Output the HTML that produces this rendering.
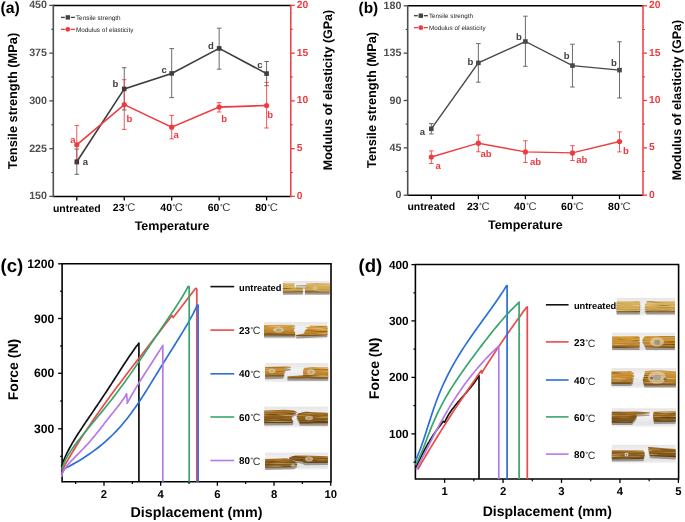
<!DOCTYPE html>
<html><head><meta charset="utf-8"><style>
html,body{margin:0;padding:0;background:#fff;}
svg{display:block;font-family:"Liberation Sans", sans-serif;will-change:transform;text-rendering:geometricPrecision;filter:blur(0.3px);}
</style></head><body>
<svg width="685" height="522" viewBox="0 0 685 522">
<defs>
<linearGradient id="pbg" x1="0" y1="0" x2="0" y2="1"><stop offset="0" stop-color="#e6e6e8"/><stop offset="0.35" stop-color="#f2f2f3"/><stop offset="0.85" stop-color="#e4e4e6"/><stop offset="1" stop-color="#f4f4f5"/></linearGradient>
<filter id="fib" x="-5%" y="-20%" width="110%" height="140%" color-interpolation-filters="sRGB">
<feTurbulence type="fractalNoise" baseFrequency="0.035 0.85" numOctaves="2" seed="7" result="n"/>
<feColorMatrix in="n" type="matrix" values="0 0 0 0 0.97  0 0 0 0 0.88  0 0 0 0 0.66  2.0 0 0 0 -1.05" result="lt"/>
<feComposite in="lt" in2="SourceGraphic" operator="in" result="ltc"/>
<feColorMatrix in="n" type="matrix" values="0 0 0 0 0.32  0 0 0 0 0.2  0 0 0 0 0.04  0 -2.4 0 0 1.1" result="dk"/>
<feComposite in="dk" in2="SourceGraphic" operator="in" result="dkc"/>
<feMerge><feMergeNode in="SourceGraphic"/><feMergeNode in="dkc"/><feMergeNode in="ltc"/></feMerge>
</filter>
<linearGradient id="gL" x1="0" y1="0" x2="0" y2="1"><stop offset="0" stop-color="#d9b666"/><stop offset="0.5" stop-color="#d4aa55"/><stop offset="0.85" stop-color="#c49a48"/><stop offset="1" stop-color="#94743e"/></linearGradient>
<linearGradient id="gM" x1="0" y1="0" x2="0" y2="1"><stop offset="0" stop-color="#d7a245"/><stop offset="0.5" stop-color="#c98d2c"/><stop offset="0.85" stop-color="#b07826"/><stop offset="1" stop-color="#7e5a26"/></linearGradient>
<linearGradient id="gO" x1="0" y1="0" x2="0" y2="1"><stop offset="0" stop-color="#d29a42"/><stop offset="0.5" stop-color="#c48a2e"/><stop offset="0.85" stop-color="#a87428"/><stop offset="1" stop-color="#7a5626"/></linearGradient>
<linearGradient id="gD" x1="0" y1="0" x2="0" y2="1"><stop offset="0" stop-color="#a87228"/><stop offset="0.5" stop-color="#8e601c"/><stop offset="0.85" stop-color="#7a5218"/><stop offset="1" stop-color="#5a3e16"/></linearGradient>
</defs>
<rect width="685" height="522" fill="#fff"/>
<line x1="53.30" y1="5.40" x2="290.80" y2="5.40" stroke="#000" stroke-width="1.5" />
<line x1="53.30" y1="196.40" x2="290.80" y2="196.40" stroke="#000" stroke-width="1.5" />
<line x1="53.30" y1="4.70" x2="53.30" y2="197.10" stroke="#4e4e4e" stroke-width="1.6" />
<line x1="290.80" y1="4.70" x2="290.80" y2="197.10" stroke="#ee3b3f" stroke-width="1.5" />
<line x1="49.30" y1="196.40" x2="53.30" y2="196.40" stroke="#4e4e4e" stroke-width="1.3" />
<line x1="290.80" y1="196.40" x2="294.80" y2="196.40" stroke="#ee3b3f" stroke-width="1.3" />
<text x="47.00" y="196.40" font-size="10.7" fill="#4e4e4e" text-anchor="end" font-weight="bold" dominant-baseline="central" >150</text>
<text x="296.80" y="196.40" font-size="10.3" fill="#ee3b3f" text-anchor="start" font-weight="bold" dominant-baseline="central" >0</text>
<line x1="51.30" y1="172.53" x2="53.30" y2="172.53" stroke="#4e4e4e" stroke-width="1.2" />
<line x1="290.80" y1="172.53" x2="292.80" y2="172.53" stroke="#ee3b3f" stroke-width="1.2" />
<line x1="49.30" y1="148.65" x2="53.30" y2="148.65" stroke="#4e4e4e" stroke-width="1.3" />
<line x1="290.80" y1="148.65" x2="294.80" y2="148.65" stroke="#ee3b3f" stroke-width="1.3" />
<text x="47.00" y="148.65" font-size="10.7" fill="#4e4e4e" text-anchor="end" font-weight="bold" dominant-baseline="central" >225</text>
<text x="296.80" y="148.65" font-size="10.3" fill="#ee3b3f" text-anchor="start" font-weight="bold" dominant-baseline="central" >5</text>
<line x1="51.30" y1="124.78" x2="53.30" y2="124.78" stroke="#4e4e4e" stroke-width="1.2" />
<line x1="290.80" y1="124.78" x2="292.80" y2="124.78" stroke="#ee3b3f" stroke-width="1.2" />
<line x1="49.30" y1="100.90" x2="53.30" y2="100.90" stroke="#4e4e4e" stroke-width="1.3" />
<line x1="290.80" y1="100.90" x2="294.80" y2="100.90" stroke="#ee3b3f" stroke-width="1.3" />
<text x="47.00" y="100.90" font-size="10.7" fill="#4e4e4e" text-anchor="end" font-weight="bold" dominant-baseline="central" >300</text>
<text x="296.80" y="100.90" font-size="10.3" fill="#ee3b3f" text-anchor="start" font-weight="bold" dominant-baseline="central" >10</text>
<line x1="51.30" y1="77.03" x2="53.30" y2="77.03" stroke="#4e4e4e" stroke-width="1.2" />
<line x1="290.80" y1="77.03" x2="292.80" y2="77.03" stroke="#ee3b3f" stroke-width="1.2" />
<line x1="49.30" y1="53.15" x2="53.30" y2="53.15" stroke="#4e4e4e" stroke-width="1.3" />
<line x1="290.80" y1="53.15" x2="294.80" y2="53.15" stroke="#ee3b3f" stroke-width="1.3" />
<text x="47.00" y="53.15" font-size="10.7" fill="#4e4e4e" text-anchor="end" font-weight="bold" dominant-baseline="central" >375</text>
<text x="296.80" y="53.15" font-size="10.3" fill="#ee3b3f" text-anchor="start" font-weight="bold" dominant-baseline="central" >15</text>
<line x1="51.30" y1="29.28" x2="53.30" y2="29.28" stroke="#4e4e4e" stroke-width="1.2" />
<line x1="290.80" y1="29.28" x2="292.80" y2="29.28" stroke="#ee3b3f" stroke-width="1.2" />
<line x1="49.30" y1="5.40" x2="53.30" y2="5.40" stroke="#4e4e4e" stroke-width="1.3" />
<line x1="290.80" y1="5.40" x2="294.80" y2="5.40" stroke="#ee3b3f" stroke-width="1.3" />
<text x="47.00" y="5.40" font-size="10.7" fill="#4e4e4e" text-anchor="end" font-weight="bold" dominant-baseline="central" >450</text>
<text x="296.80" y="5.40" font-size="10.3" fill="#ee3b3f" text-anchor="start" font-weight="bold" dominant-baseline="central" >20</text>
<line x1="76.80" y1="196.40" x2="76.80" y2="200.40" stroke="#000" stroke-width="1.3" />
<text x="76.80" y="208.60" font-size="10.5" fill="#000" text-anchor="middle" font-weight="bold" dominant-baseline="central" >untreated</text>
<line x1="124.25" y1="196.40" x2="124.25" y2="200.40" stroke="#000" stroke-width="1.3" />
<text x="112.85" y="208.40" font-size="10.5" fill="#000" font-weight="bold" dominant-baseline="central">23</text>
<circle cx="126.43" cy="205.15" r="0.75" fill="none" stroke="#000" stroke-width="0.6" opacity="0.8"/>
<text x="127.33" y="208.40" font-size="11.24" fill="#000" font-weight="normal" dominant-baseline="central" opacity="0.8">C</text>
<line x1="171.70" y1="196.40" x2="171.70" y2="200.40" stroke="#000" stroke-width="1.3" />
<text x="160.30" y="208.40" font-size="10.5" fill="#000" font-weight="bold" dominant-baseline="central">40</text>
<circle cx="173.88" cy="205.15" r="0.75" fill="none" stroke="#000" stroke-width="0.6" opacity="0.8"/>
<text x="174.78" y="208.40" font-size="11.24" fill="#000" font-weight="normal" dominant-baseline="central" opacity="0.8">C</text>
<line x1="219.15" y1="196.40" x2="219.15" y2="200.40" stroke="#000" stroke-width="1.3" />
<text x="207.75" y="208.40" font-size="10.5" fill="#000" font-weight="bold" dominant-baseline="central">60</text>
<circle cx="221.33" cy="205.15" r="0.75" fill="none" stroke="#000" stroke-width="0.6" opacity="0.8"/>
<text x="222.23" y="208.40" font-size="11.24" fill="#000" font-weight="normal" dominant-baseline="central" opacity="0.8">C</text>
<line x1="266.60" y1="196.40" x2="266.60" y2="200.40" stroke="#000" stroke-width="1.3" />
<text x="255.20" y="208.40" font-size="10.5" fill="#000" font-weight="bold" dominant-baseline="central">80</text>
<circle cx="268.78" cy="205.15" r="0.75" fill="none" stroke="#000" stroke-width="0.6" opacity="0.8"/>
<text x="269.68" y="208.40" font-size="11.24" fill="#000" font-weight="normal" dominant-baseline="central" opacity="0.8">C</text>
<text x="172.05" y="226.40" font-size="12.5" fill="#000" text-anchor="middle" font-weight="bold" dominant-baseline="central" >Temperature</text>
<text x="12.00" y="101.00" font-size="12.8" fill="#000" text-anchor="middle" font-weight="bold" dominant-baseline="central" transform="rotate(-90 12.00 101.00)" >Tensile strength (MPa)</text>
<text x="328.00" y="90.00" font-size="12.5" fill="#000" text-anchor="middle" font-weight="bold" dominant-baseline="central" transform="rotate(-90 328.00 90.00)" >Modulus of elasticity (GPa)</text>
<text x="0.50" y="8.90" font-size="15.8" fill="#000" text-anchor="start" font-weight="bold" dominant-baseline="central" >(a)</text>
<line x1="76.80" y1="149.00" x2="76.80" y2="174.30" stroke="#6b6b6b" stroke-width="1.0" />
<line x1="74.50" y1="149.00" x2="79.10" y2="149.00" stroke="#6b6b6b" stroke-width="1.0" />
<line x1="74.50" y1="174.30" x2="79.10" y2="174.30" stroke="#6b6b6b" stroke-width="1.0" />
<line x1="124.25" y1="67.70" x2="124.25" y2="110.00" stroke="#6b6b6b" stroke-width="1.0" />
<line x1="121.95" y1="67.70" x2="126.55" y2="67.70" stroke="#6b6b6b" stroke-width="1.0" />
<line x1="121.95" y1="110.00" x2="126.55" y2="110.00" stroke="#6b6b6b" stroke-width="1.0" />
<line x1="171.70" y1="48.60" x2="171.70" y2="97.60" stroke="#6b6b6b" stroke-width="1.0" />
<line x1="169.40" y1="48.60" x2="174.00" y2="48.60" stroke="#6b6b6b" stroke-width="1.0" />
<line x1="169.40" y1="97.60" x2="174.00" y2="97.60" stroke="#6b6b6b" stroke-width="1.0" />
<line x1="219.15" y1="28.20" x2="219.15" y2="69.20" stroke="#6b6b6b" stroke-width="1.0" />
<line x1="216.85" y1="28.20" x2="221.45" y2="28.20" stroke="#6b6b6b" stroke-width="1.0" />
<line x1="216.85" y1="69.20" x2="221.45" y2="69.20" stroke="#6b6b6b" stroke-width="1.0" />
<line x1="266.60" y1="61.50" x2="266.60" y2="85.70" stroke="#6b6b6b" stroke-width="1.0" />
<line x1="264.30" y1="61.50" x2="268.90" y2="61.50" stroke="#6b6b6b" stroke-width="1.0" />
<line x1="264.30" y1="85.70" x2="268.90" y2="85.70" stroke="#6b6b6b" stroke-width="1.0" />
<line x1="76.80" y1="125.40" x2="76.80" y2="164.20" stroke="#ee3b3f" stroke-width="1.0" opacity="0.85"/>
<line x1="74.50" y1="125.40" x2="79.10" y2="125.40" stroke="#ee3b3f" stroke-width="1.0" opacity="0.85"/>
<line x1="74.50" y1="164.20" x2="79.10" y2="164.20" stroke="#ee3b3f" stroke-width="1.0" opacity="0.85"/>
<line x1="124.25" y1="79.70" x2="124.25" y2="129.40" stroke="#ee3b3f" stroke-width="1.0" opacity="0.85"/>
<line x1="121.95" y1="79.70" x2="126.55" y2="79.70" stroke="#ee3b3f" stroke-width="1.0" opacity="0.85"/>
<line x1="121.95" y1="129.40" x2="126.55" y2="129.40" stroke="#ee3b3f" stroke-width="1.0" opacity="0.85"/>
<line x1="171.70" y1="115.40" x2="171.70" y2="138.80" stroke="#ee3b3f" stroke-width="1.0" opacity="0.85"/>
<line x1="169.40" y1="115.40" x2="174.00" y2="115.40" stroke="#ee3b3f" stroke-width="1.0" opacity="0.85"/>
<line x1="169.40" y1="138.80" x2="174.00" y2="138.80" stroke="#ee3b3f" stroke-width="1.0" opacity="0.85"/>
<line x1="219.15" y1="102.60" x2="219.15" y2="112.00" stroke="#ee3b3f" stroke-width="1.0" opacity="0.85"/>
<line x1="216.85" y1="102.60" x2="221.45" y2="102.60" stroke="#ee3b3f" stroke-width="1.0" opacity="0.85"/>
<line x1="216.85" y1="112.00" x2="221.45" y2="112.00" stroke="#ee3b3f" stroke-width="1.0" opacity="0.85"/>
<line x1="266.60" y1="82.40" x2="266.60" y2="128.00" stroke="#ee3b3f" stroke-width="1.0" opacity="0.85"/>
<line x1="264.30" y1="82.40" x2="268.90" y2="82.40" stroke="#ee3b3f" stroke-width="1.0" opacity="0.85"/>
<line x1="264.30" y1="128.00" x2="268.90" y2="128.00" stroke="#ee3b3f" stroke-width="1.0" opacity="0.85"/>
<polyline points="76.80,161.70 124.25,88.90 171.70,73.40 219.15,48.40 266.60,73.60" fill="none" stroke="#3d3d3d" stroke-width="1.6"/>
<polyline points="76.80,144.80 124.25,104.60 171.70,127.20 219.15,107.10 266.60,105.50" fill="none" stroke="#ee3b3f" stroke-width="1.6"/>
<rect x="74.50" y="159.40" width="4.6" height="4.6" fill="#3d3d3d"/>
<rect x="121.95" y="86.60" width="4.6" height="4.6" fill="#3d3d3d"/>
<rect x="169.40" y="71.10" width="4.6" height="4.6" fill="#3d3d3d"/>
<rect x="216.85" y="46.10" width="4.6" height="4.6" fill="#3d3d3d"/>
<rect x="264.30" y="71.30" width="4.6" height="4.6" fill="#3d3d3d"/>
<circle cx="76.80" cy="144.80" r="2.6" fill="#ee3b3f"/>
<circle cx="124.25" cy="104.60" r="2.6" fill="#ee3b3f"/>
<circle cx="171.70" cy="127.20" r="2.6" fill="#ee3b3f"/>
<circle cx="219.15" cy="107.10" r="2.6" fill="#ee3b3f"/>
<circle cx="266.60" cy="105.50" r="2.6" fill="#ee3b3f"/>
<text x="85.30" y="162.80" font-size="9.5" fill="#444" text-anchor="middle" font-weight="bold" dominant-baseline="central" >a</text>
<text x="115.40" y="84.60" font-size="9.5" fill="#444" text-anchor="middle" font-weight="bold" dominant-baseline="central" >b</text>
<text x="164.20" y="70.20" font-size="9.5" fill="#444" text-anchor="middle" font-weight="bold" dominant-baseline="central" >c</text>
<text x="210.90" y="46.80" font-size="9.5" fill="#444" text-anchor="middle" font-weight="bold" dominant-baseline="central" >d</text>
<text x="259.80" y="65.00" font-size="9.5" fill="#444" text-anchor="middle" font-weight="bold" dominant-baseline="central" >c</text>
<text x="72.90" y="140.20" font-size="9.5" fill="#ee3b3f" text-anchor="middle" font-weight="bold" dominant-baseline="central" >a</text>
<text x="129.40" y="119.80" font-size="9.5" fill="#ee3b3f" text-anchor="middle" font-weight="bold" dominant-baseline="central" >b</text>
<text x="176.20" y="135.80" font-size="9.5" fill="#ee3b3f" text-anchor="middle" font-weight="bold" dominant-baseline="central" >a</text>
<text x="224.10" y="119.20" font-size="9.5" fill="#ee3b3f" text-anchor="middle" font-weight="bold" dominant-baseline="central" >b</text>
<text x="270.20" y="115.40" font-size="9.5" fill="#ee3b3f" text-anchor="middle" font-weight="bold" dominant-baseline="central" >b</text>
<line x1="61.00" y1="17.40" x2="64.80" y2="17.40" stroke="#3d3d3d" stroke-width="1.3" />
<line x1="70.80" y1="17.40" x2="74.90" y2="17.40" stroke="#3d3d3d" stroke-width="1.3" />
<rect x="65.60" y="15.20" width="4.4" height="4.4" fill="#444"/>
<text x="75.90" y="18.30" font-size="6.4" fill="#222" text-anchor="start" font-weight="normal" dominant-baseline="central" >Tensile strength</text>
<line x1="61.00" y1="29.35" x2="64.80" y2="29.35" stroke="#ee3b3f" stroke-width="1.3" />
<line x1="70.80" y1="29.35" x2="74.90" y2="29.35" stroke="#ee3b3f" stroke-width="1.3" />
<circle cx="67.80" cy="29.35" r="2.45" fill="#ee3b3f"/>
<text x="75.90" y="30.25" font-size="6.4" fill="#222" text-anchor="start" font-weight="normal" dominant-baseline="central" >Modulus of elasticity</text>
<line x1="407.70" y1="5.80" x2="643.00" y2="5.80" stroke="#000" stroke-width="1.5" />
<line x1="407.70" y1="195.20" x2="643.00" y2="195.20" stroke="#000" stroke-width="1.5" />
<line x1="407.70" y1="5.10" x2="407.70" y2="195.90" stroke="#4e4e4e" stroke-width="1.6" />
<line x1="643.00" y1="5.10" x2="643.00" y2="195.90" stroke="#ee3b3f" stroke-width="1.5" />
<line x1="403.70" y1="195.20" x2="407.70" y2="195.20" stroke="#4e4e4e" stroke-width="1.3" />
<line x1="643.00" y1="195.20" x2="647.00" y2="195.20" stroke="#ee3b3f" stroke-width="1.3" />
<text x="401.40" y="195.20" font-size="10.7" fill="#4e4e4e" text-anchor="end" font-weight="bold" dominant-baseline="central" >0</text>
<text x="649.00" y="195.20" font-size="10.3" fill="#ee3b3f" text-anchor="start" font-weight="bold" dominant-baseline="central" >0</text>
<line x1="405.70" y1="171.52" x2="407.70" y2="171.52" stroke="#4e4e4e" stroke-width="1.2" />
<line x1="643.00" y1="171.52" x2="645.00" y2="171.52" stroke="#ee3b3f" stroke-width="1.2" />
<line x1="403.70" y1="147.85" x2="407.70" y2="147.85" stroke="#4e4e4e" stroke-width="1.3" />
<line x1="643.00" y1="147.85" x2="647.00" y2="147.85" stroke="#ee3b3f" stroke-width="1.3" />
<text x="401.40" y="147.85" font-size="10.7" fill="#4e4e4e" text-anchor="end" font-weight="bold" dominant-baseline="central" >45</text>
<text x="649.00" y="147.85" font-size="10.3" fill="#ee3b3f" text-anchor="start" font-weight="bold" dominant-baseline="central" >5</text>
<line x1="405.70" y1="124.17" x2="407.70" y2="124.17" stroke="#4e4e4e" stroke-width="1.2" />
<line x1="643.00" y1="124.17" x2="645.00" y2="124.17" stroke="#ee3b3f" stroke-width="1.2" />
<line x1="403.70" y1="100.50" x2="407.70" y2="100.50" stroke="#4e4e4e" stroke-width="1.3" />
<line x1="643.00" y1="100.50" x2="647.00" y2="100.50" stroke="#ee3b3f" stroke-width="1.3" />
<text x="401.40" y="100.50" font-size="10.7" fill="#4e4e4e" text-anchor="end" font-weight="bold" dominant-baseline="central" >90</text>
<text x="649.00" y="100.50" font-size="10.3" fill="#ee3b3f" text-anchor="start" font-weight="bold" dominant-baseline="central" >10</text>
<line x1="405.70" y1="76.83" x2="407.70" y2="76.83" stroke="#4e4e4e" stroke-width="1.2" />
<line x1="643.00" y1="76.83" x2="645.00" y2="76.83" stroke="#ee3b3f" stroke-width="1.2" />
<line x1="403.70" y1="53.15" x2="407.70" y2="53.15" stroke="#4e4e4e" stroke-width="1.3" />
<line x1="643.00" y1="53.15" x2="647.00" y2="53.15" stroke="#ee3b3f" stroke-width="1.3" />
<text x="401.40" y="53.15" font-size="10.7" fill="#4e4e4e" text-anchor="end" font-weight="bold" dominant-baseline="central" >135</text>
<text x="649.00" y="53.15" font-size="10.3" fill="#ee3b3f" text-anchor="start" font-weight="bold" dominant-baseline="central" >15</text>
<line x1="405.70" y1="29.48" x2="407.70" y2="29.48" stroke="#4e4e4e" stroke-width="1.2" />
<line x1="643.00" y1="29.48" x2="645.00" y2="29.48" stroke="#ee3b3f" stroke-width="1.2" />
<line x1="403.70" y1="5.80" x2="407.70" y2="5.80" stroke="#4e4e4e" stroke-width="1.3" />
<line x1="643.00" y1="5.80" x2="647.00" y2="5.80" stroke="#ee3b3f" stroke-width="1.3" />
<text x="401.40" y="5.80" font-size="10.7" fill="#4e4e4e" text-anchor="end" font-weight="bold" dominant-baseline="central" >180</text>
<text x="649.00" y="5.80" font-size="10.3" fill="#ee3b3f" text-anchor="start" font-weight="bold" dominant-baseline="central" >20</text>
<line x1="431.30" y1="195.20" x2="431.30" y2="199.20" stroke="#000" stroke-width="1.3" />
<text x="431.30" y="207.40" font-size="10.5" fill="#000" text-anchor="middle" font-weight="bold" dominant-baseline="central" >untreated</text>
<line x1="478.35" y1="195.20" x2="478.35" y2="199.20" stroke="#000" stroke-width="1.3" />
<text x="466.95" y="207.20" font-size="10.5" fill="#000" font-weight="bold" dominant-baseline="central">23</text>
<circle cx="480.53" cy="203.94" r="0.75" fill="none" stroke="#000" stroke-width="0.6" opacity="0.8"/>
<text x="481.43" y="207.20" font-size="11.24" fill="#000" font-weight="normal" dominant-baseline="central" opacity="0.8">C</text>
<line x1="525.40" y1="195.20" x2="525.40" y2="199.20" stroke="#000" stroke-width="1.3" />
<text x="514.00" y="207.20" font-size="10.5" fill="#000" font-weight="bold" dominant-baseline="central">40</text>
<circle cx="527.58" cy="203.94" r="0.75" fill="none" stroke="#000" stroke-width="0.6" opacity="0.8"/>
<text x="528.48" y="207.20" font-size="11.24" fill="#000" font-weight="normal" dominant-baseline="central" opacity="0.8">C</text>
<line x1="572.45" y1="195.20" x2="572.45" y2="199.20" stroke="#000" stroke-width="1.3" />
<text x="561.05" y="207.20" font-size="10.5" fill="#000" font-weight="bold" dominant-baseline="central">60</text>
<circle cx="574.63" cy="203.94" r="0.75" fill="none" stroke="#000" stroke-width="0.6" opacity="0.8"/>
<text x="575.53" y="207.20" font-size="11.24" fill="#000" font-weight="normal" dominant-baseline="central" opacity="0.8">C</text>
<line x1="619.50" y1="195.20" x2="619.50" y2="199.20" stroke="#000" stroke-width="1.3" />
<text x="608.10" y="207.20" font-size="10.5" fill="#000" font-weight="bold" dominant-baseline="central">80</text>
<circle cx="621.68" cy="203.94" r="0.75" fill="none" stroke="#000" stroke-width="0.6" opacity="0.8"/>
<text x="622.58" y="207.20" font-size="11.24" fill="#000" font-weight="normal" dominant-baseline="central" opacity="0.8">C</text>
<text x="525.35" y="225.20" font-size="12.5" fill="#000" text-anchor="middle" font-weight="bold" dominant-baseline="central" >Temperature</text>
<text x="371.70" y="100.00" font-size="12.8" fill="#000" text-anchor="middle" font-weight="bold" dominant-baseline="central" transform="rotate(-90 371.70 100.00)" >Tensile strength (MPa)</text>
<text x="677.40" y="100.00" font-size="12.5" fill="#000" text-anchor="middle" font-weight="bold" dominant-baseline="central" transform="rotate(-90 677.40 100.00)" >Modulus of elasticity (GPa)</text>
<text x="358.50" y="8.90" font-size="15.4" fill="#000" text-anchor="start" font-weight="bold" dominant-baseline="central" >(b)</text>
<line x1="431.30" y1="123.60" x2="431.30" y2="134.00" stroke="#6b6b6b" stroke-width="1.0" />
<line x1="429.00" y1="123.60" x2="433.60" y2="123.60" stroke="#6b6b6b" stroke-width="1.0" />
<line x1="429.00" y1="134.00" x2="433.60" y2="134.00" stroke="#6b6b6b" stroke-width="1.0" />
<line x1="478.35" y1="43.60" x2="478.35" y2="82.20" stroke="#6b6b6b" stroke-width="1.0" />
<line x1="476.05" y1="43.60" x2="480.65" y2="43.60" stroke="#6b6b6b" stroke-width="1.0" />
<line x1="476.05" y1="82.20" x2="480.65" y2="82.20" stroke="#6b6b6b" stroke-width="1.0" />
<line x1="525.40" y1="16.20" x2="525.40" y2="66.30" stroke="#6b6b6b" stroke-width="1.0" />
<line x1="523.10" y1="16.20" x2="527.70" y2="16.20" stroke="#6b6b6b" stroke-width="1.0" />
<line x1="523.10" y1="66.30" x2="527.70" y2="66.30" stroke="#6b6b6b" stroke-width="1.0" />
<line x1="572.45" y1="44.20" x2="572.45" y2="87.00" stroke="#6b6b6b" stroke-width="1.0" />
<line x1="570.15" y1="44.20" x2="574.75" y2="44.20" stroke="#6b6b6b" stroke-width="1.0" />
<line x1="570.15" y1="87.00" x2="574.75" y2="87.00" stroke="#6b6b6b" stroke-width="1.0" />
<line x1="619.50" y1="41.80" x2="619.50" y2="98.00" stroke="#6b6b6b" stroke-width="1.0" />
<line x1="617.20" y1="41.80" x2="621.80" y2="41.80" stroke="#6b6b6b" stroke-width="1.0" />
<line x1="617.20" y1="98.00" x2="621.80" y2="98.00" stroke="#6b6b6b" stroke-width="1.0" />
<line x1="431.30" y1="150.90" x2="431.30" y2="163.50" stroke="#ee3b3f" stroke-width="1.0" opacity="0.85"/>
<line x1="429.00" y1="150.90" x2="433.60" y2="150.90" stroke="#ee3b3f" stroke-width="1.0" opacity="0.85"/>
<line x1="429.00" y1="163.50" x2="433.60" y2="163.50" stroke="#ee3b3f" stroke-width="1.0" opacity="0.85"/>
<line x1="478.35" y1="135.00" x2="478.35" y2="151.80" stroke="#ee3b3f" stroke-width="1.0" opacity="0.85"/>
<line x1="476.05" y1="135.00" x2="480.65" y2="135.00" stroke="#ee3b3f" stroke-width="1.0" opacity="0.85"/>
<line x1="476.05" y1="151.80" x2="480.65" y2="151.80" stroke="#ee3b3f" stroke-width="1.0" opacity="0.85"/>
<line x1="525.40" y1="140.80" x2="525.40" y2="162.50" stroke="#ee3b3f" stroke-width="1.0" opacity="0.85"/>
<line x1="523.10" y1="140.80" x2="527.70" y2="140.80" stroke="#ee3b3f" stroke-width="1.0" opacity="0.85"/>
<line x1="523.10" y1="162.50" x2="527.70" y2="162.50" stroke="#ee3b3f" stroke-width="1.0" opacity="0.85"/>
<line x1="572.45" y1="145.70" x2="572.45" y2="160.50" stroke="#ee3b3f" stroke-width="1.0" opacity="0.85"/>
<line x1="570.15" y1="145.70" x2="574.75" y2="145.70" stroke="#ee3b3f" stroke-width="1.0" opacity="0.85"/>
<line x1="570.15" y1="160.50" x2="574.75" y2="160.50" stroke="#ee3b3f" stroke-width="1.0" opacity="0.85"/>
<line x1="619.50" y1="131.90" x2="619.50" y2="151.90" stroke="#ee3b3f" stroke-width="1.0" opacity="0.85"/>
<line x1="617.20" y1="131.90" x2="621.80" y2="131.90" stroke="#ee3b3f" stroke-width="1.0" opacity="0.85"/>
<line x1="617.20" y1="151.90" x2="621.80" y2="151.90" stroke="#ee3b3f" stroke-width="1.0" opacity="0.85"/>
<polyline points="431.30,128.80 478.35,62.90 525.40,41.50 572.45,65.60 619.50,70.10" fill="none" stroke="#484848" stroke-width="1.4"/>
<polyline points="431.30,157.00 478.35,143.20 525.40,151.90 572.45,152.90 619.50,141.50" fill="none" stroke="#ee3b3f" stroke-width="1.4"/>
<rect x="429.00" y="126.50" width="4.6" height="4.6" fill="#484848"/>
<rect x="476.05" y="60.60" width="4.6" height="4.6" fill="#484848"/>
<rect x="523.10" y="39.20" width="4.6" height="4.6" fill="#484848"/>
<rect x="570.15" y="63.30" width="4.6" height="4.6" fill="#484848"/>
<rect x="617.20" y="67.80" width="4.6" height="4.6" fill="#484848"/>
<circle cx="431.30" cy="157.00" r="2.6" fill="#ee3b3f"/>
<circle cx="478.35" cy="143.20" r="2.6" fill="#ee3b3f"/>
<circle cx="525.40" cy="151.90" r="2.6" fill="#ee3b3f"/>
<circle cx="572.45" cy="152.90" r="2.6" fill="#ee3b3f"/>
<circle cx="619.50" cy="141.50" r="2.6" fill="#ee3b3f"/>
<text x="422.30" y="132.70" font-size="9.5" fill="#444" text-anchor="middle" font-weight="bold" dominant-baseline="central" >a</text>
<text x="470.40" y="62.80" font-size="9.5" fill="#444" text-anchor="middle" font-weight="bold" dominant-baseline="central" >b</text>
<text x="519.00" y="37.00" font-size="9.5" fill="#444" text-anchor="middle" font-weight="bold" dominant-baseline="central" >b</text>
<text x="566.60" y="56.70" font-size="9.5" fill="#444" text-anchor="middle" font-weight="bold" dominant-baseline="central" >b</text>
<text x="613.90" y="63.60" font-size="9.5" fill="#444" text-anchor="middle" font-weight="bold" dominant-baseline="central" >b</text>
<text x="438.20" y="166.20" font-size="9.5" fill="#ee3b3f" text-anchor="middle" font-weight="bold" dominant-baseline="central" >a</text>
<text x="486.00" y="154.30" font-size="9.5" fill="#ee3b3f" text-anchor="middle" font-weight="bold" dominant-baseline="central" >ab</text>
<text x="535.60" y="162.20" font-size="9.5" fill="#ee3b3f" text-anchor="middle" font-weight="bold" dominant-baseline="central" >ab</text>
<text x="581.80" y="160.50" font-size="9.5" fill="#ee3b3f" text-anchor="middle" font-weight="bold" dominant-baseline="central" >ab</text>
<text x="626.00" y="151.90" font-size="9.5" fill="#ee3b3f" text-anchor="middle" font-weight="bold" dominant-baseline="central" >b</text>
<line x1="414.00" y1="15.70" x2="417.80" y2="15.70" stroke="#3d3d3d" stroke-width="1.3" />
<line x1="423.80" y1="15.70" x2="427.90" y2="15.70" stroke="#3d3d3d" stroke-width="1.3" />
<rect x="418.60" y="13.50" width="4.4" height="4.4" fill="#444"/>
<text x="428.90" y="16.60" font-size="6.3" fill="#222" text-anchor="start" font-weight="normal" dominant-baseline="central" >Tensile strength</text>
<line x1="414.00" y1="27.65" x2="417.80" y2="27.65" stroke="#ee3b3f" stroke-width="1.3" />
<line x1="423.80" y1="27.65" x2="427.90" y2="27.65" stroke="#ee3b3f" stroke-width="1.3" />
<circle cx="420.80" cy="27.65" r="2.45" fill="#ee3b3f"/>
<text x="428.90" y="28.55" font-size="6.3" fill="#222" text-anchor="start" font-weight="normal" dominant-baseline="central" >Modulus of elasticity</text>
<line x1="62.10" y1="263.80" x2="331.00" y2="263.80" stroke="#000" stroke-width="1.5" />
<line x1="62.10" y1="481.80" x2="331.00" y2="481.80" stroke="#000" stroke-width="1.5" />
<line x1="62.10" y1="263.10" x2="62.10" y2="482.50" stroke="#000" stroke-width="1.6" />
<line x1="331.00" y1="263.10" x2="331.00" y2="482.50" stroke="#000" stroke-width="1.6" />
<line x1="58.10" y1="428.80" x2="62.10" y2="428.80" stroke="#000" stroke-width="1.3" />
<text x="54.30" y="428.80" font-size="12.2" fill="#000" text-anchor="end" font-weight="bold" dominant-baseline="central" >300</text>
<line x1="58.10" y1="373.30" x2="62.10" y2="373.30" stroke="#000" stroke-width="1.3" />
<text x="54.30" y="373.30" font-size="12.2" fill="#000" text-anchor="end" font-weight="bold" dominant-baseline="central" >600</text>
<line x1="58.10" y1="318.50" x2="62.10" y2="318.50" stroke="#000" stroke-width="1.3" />
<text x="54.30" y="318.50" font-size="12.2" fill="#000" text-anchor="end" font-weight="bold" dominant-baseline="central" >900</text>
<line x1="58.10" y1="263.80" x2="62.10" y2="263.80" stroke="#000" stroke-width="1.3" />
<text x="54.30" y="263.80" font-size="12.2" fill="#000" text-anchor="end" font-weight="bold" dominant-baseline="central" >1200</text>
<line x1="60.10" y1="456.30" x2="62.10" y2="456.30" stroke="#000" stroke-width="1.2" />
<line x1="60.10" y1="401.00" x2="62.10" y2="401.00" stroke="#000" stroke-width="1.2" />
<line x1="60.10" y1="346.00" x2="62.10" y2="346.00" stroke="#000" stroke-width="1.2" />
<line x1="60.10" y1="291.20" x2="62.10" y2="291.20" stroke="#000" stroke-width="1.2" />
<line x1="104.00" y1="481.80" x2="104.00" y2="485.80" stroke="#000" stroke-width="1.3" />
<text x="104.00" y="495.00" font-size="11.3" fill="#000" text-anchor="middle" font-weight="bold" dominant-baseline="central" >2</text>
<line x1="160.68" y1="481.80" x2="160.68" y2="485.80" stroke="#000" stroke-width="1.3" />
<text x="160.68" y="495.00" font-size="11.3" fill="#000" text-anchor="middle" font-weight="bold" dominant-baseline="central" >4</text>
<line x1="217.36" y1="481.80" x2="217.36" y2="485.80" stroke="#000" stroke-width="1.3" />
<text x="217.36" y="495.00" font-size="11.3" fill="#000" text-anchor="middle" font-weight="bold" dominant-baseline="central" >6</text>
<line x1="274.04" y1="481.80" x2="274.04" y2="485.80" stroke="#000" stroke-width="1.3" />
<text x="274.04" y="495.00" font-size="11.3" fill="#000" text-anchor="middle" font-weight="bold" dominant-baseline="central" >8</text>
<line x1="330.72" y1="481.80" x2="330.72" y2="485.80" stroke="#000" stroke-width="1.3" />
<text x="330.72" y="495.00" font-size="11.3" fill="#000" text-anchor="middle" font-weight="bold" dominant-baseline="central" >10</text>
<line x1="75.66" y1="481.80" x2="75.66" y2="484.10" stroke="#000" stroke-width="1.2" />
<line x1="132.34" y1="481.80" x2="132.34" y2="484.10" stroke="#000" stroke-width="1.2" />
<line x1="189.02" y1="481.80" x2="189.02" y2="484.10" stroke="#000" stroke-width="1.2" />
<line x1="245.70" y1="481.80" x2="245.70" y2="484.10" stroke="#000" stroke-width="1.2" />
<line x1="302.38" y1="481.80" x2="302.38" y2="484.10" stroke="#000" stroke-width="1.2" />
<rect x="282.90" y="281.00" width="46.80" height="13.30" fill="url(#pbg)"/>
<path d="M282.90,285.40 L294.40,285.40 L294.40,289.50 L296.00,289.80 L302.80,290.20 L302.80,294.80 L282.90,294.80 Z" fill="#5e5446" opacity="0.55"/>
<clipPath id="cp1"><path d="M282.90,283.20 L294.40,283.20 L294.40,287.30 L296.00,287.60 L302.80,288.00 L302.80,292.60 L282.90,292.60 Z"/></clipPath>
<path d="M282.90,283.20 L294.40,283.20 L294.40,287.30 L296.00,287.60 L302.80,288.00 L302.80,292.60 L282.90,292.60 Z" fill="url(#gL)" filter="url(#fib)"/>
<g clip-path="url(#cp1)"><rect x="282.90" y="291.40" width="19.90" height="1.2" fill="#5a3f14" opacity="0.4"/></g>
<path d="M306.20,285.40 L329.70,285.40 L329.70,294.80 L305.00,294.80 L305.00,290.20 L306.20,289.70 Z" fill="#5e5446" opacity="0.55"/>
<clipPath id="cp2"><path d="M306.20,283.20 L329.70,283.20 L329.70,292.60 L305.00,292.60 L305.00,288.00 L306.20,287.50 Z"/></clipPath>
<path d="M306.20,283.20 L329.70,283.20 L329.70,292.60 L305.00,292.60 L305.00,288.00 L306.20,287.50 Z" fill="url(#gL)" filter="url(#fib)"/>
<g clip-path="url(#cp2)"><rect x="305.00" y="291.40" width="24.70" height="1.2" fill="#5a3f14" opacity="0.4"/></g>
<path d="M296.00,287.60 L306.20,287.40 L306.20,288.40 L296.00,288.50 Z" fill="#5e5446" opacity="0.55"/>
<clipPath id="cp3"><path d="M296.00,285.40 L306.20,285.20 L306.20,286.20 L296.00,286.30 Z"/></clipPath>
<path d="M296.00,285.40 L306.20,285.20 L306.20,286.20 L296.00,286.30 Z" fill="url(#gL)" filter="url(#fib)"/>
<g clip-path="url(#cp3)"><rect x="296.00" y="285.10" width="10.20" height="1.2" fill="#5a3f14" opacity="0.4"/></g>
<ellipse cx="315" cy="288" rx="2.2" ry="1.8" fill="#e4dccb" opacity="0.6"/><ellipse cx="315" cy="288" rx="0.99" ry="0.81" fill="#8a8478" opacity="0.45"/>
<rect x="264.00" y="322.10" width="63.40" height="16.90" fill="url(#pbg)"/>
<path d="M264.00,327.20 L290.00,327.00 L295.20,327.40 L295.00,328.70 L291.00,329.70 L293.50,331.20 L295.20,335.20 L295.20,337.60 L264.00,337.60 Z" fill="#5e5446" opacity="0.55"/>
<clipPath id="cp4"><path d="M264.00,325.00 L290.00,324.80 L295.20,325.20 L295.00,326.50 L291.00,327.50 L293.50,329.00 L295.20,333.00 L295.20,335.40 L264.00,335.40 Z"/></clipPath>
<path d="M264.00,325.00 L290.00,324.80 L295.20,325.20 L295.00,326.50 L291.00,327.50 L293.50,329.00 L295.20,333.00 L295.20,335.40 L264.00,335.40 Z" fill="url(#gM)" filter="url(#fib)"/>
<g clip-path="url(#cp4)"><rect x="264.00" y="334.20" width="31.20" height="1.2" fill="#5a3f14" opacity="0.4"/></g>
<path d="M310.00,327.90 L327.40,327.90 L327.40,337.10 L296.20,338.60 L296.20,337.20 L304.00,335.70 L305.00,332.70 L308.00,330.70 L305.00,329.70 L310.00,328.70 Z" fill="#5e5446" opacity="0.55"/>
<clipPath id="cp5"><path d="M310.00,325.70 L327.40,325.70 L327.40,334.90 L296.20,336.40 L296.20,335.00 L304.00,333.50 L305.00,330.50 L308.00,328.50 L305.00,327.50 L310.00,326.50 Z"/></clipPath>
<path d="M310.00,325.70 L327.40,325.70 L327.40,334.90 L296.20,336.40 L296.20,335.00 L304.00,333.50 L305.00,330.50 L308.00,328.50 L305.00,327.50 L310.00,326.50 Z" fill="url(#gM)" filter="url(#fib)"/>
<g clip-path="url(#cp5)"><rect x="296.20" y="335.20" width="31.20" height="1.2" fill="#5a3f14" opacity="0.4"/></g>
<ellipse cx="278.5" cy="330" rx="5.5" ry="2.8" fill="#e4dccb" opacity="0.6"/><ellipse cx="278.5" cy="330" rx="2.48" ry="1.26" fill="#8a8478" opacity="0.45"/>
<rect x="265.10" y="363.10" width="63.10" height="18.90" fill="url(#pbg)"/>
<path d="M265.10,369.20 L285.00,368.40 L290.60,369.00 L291.00,370.20 L286.00,371.00 L284.00,373.20 L284.50,375.70 L283.00,378.70 L265.10,379.20 Z" fill="#5e5446" opacity="0.55"/>
<clipPath id="cp6"><path d="M265.10,367.00 L285.00,366.20 L290.60,366.80 L291.00,368.00 L286.00,368.80 L284.00,371.00 L284.50,373.50 L283.00,376.50 L265.10,377.00 Z"/></clipPath>
<path d="M265.10,367.00 L285.00,366.20 L290.60,366.80 L291.00,368.00 L286.00,368.80 L284.00,371.00 L284.50,373.50 L283.00,376.50 L265.10,377.00 Z" fill="url(#gO)" filter="url(#fib)"/>
<g clip-path="url(#cp6)"><rect x="265.10" y="375.80" width="25.90" height="1.2" fill="#5a3f14" opacity="0.4"/></g>
<path d="M304.00,370.20 L312.00,369.20 L328.20,369.40 L328.20,380.70 L287.50,380.70 L287.50,378.40 L303.40,377.70 L303.00,373.20 Z" fill="#5e5446" opacity="0.55"/>
<clipPath id="cp7"><path d="M304.00,368.00 L312.00,367.00 L328.20,367.20 L328.20,378.50 L287.50,378.50 L287.50,376.20 L303.40,375.50 L303.00,371.00 Z"/></clipPath>
<path d="M304.00,368.00 L312.00,367.00 L328.20,367.20 L328.20,378.50 L287.50,378.50 L287.50,376.20 L303.40,375.50 L303.00,371.00 Z" fill="url(#gO)" filter="url(#fib)"/>
<g clip-path="url(#cp7)"><rect x="287.50" y="377.30" width="40.70" height="1.2" fill="#5a3f14" opacity="0.4"/></g>
<ellipse cx="311" cy="372" rx="4" ry="3" fill="#e4dccb" opacity="0.6"/><ellipse cx="311" cy="372" rx="1.80" ry="1.35" fill="#8a8478" opacity="0.45"/>
<ellipse cx="272" cy="371" rx="3.5" ry="2.2" fill="#e4dccb" opacity="0.6"/><ellipse cx="272" cy="371" rx="1.57" ry="0.99" fill="#8a8478" opacity="0.45"/>
<rect x="264.20" y="406.60" width="63.70" height="20.90" fill="url(#pbg)"/>
<path d="M264.20,412.60 L285.00,411.90 L294.00,412.70 L297.50,414.70 L293.00,416.70 L291.00,420.20 L293.50,423.70 L292.00,425.20 L264.20,425.40 Z" fill="#5e5446" opacity="0.55"/>
<clipPath id="cp8"><path d="M264.20,410.40 L285.00,409.70 L294.00,410.50 L297.50,412.50 L293.00,414.50 L291.00,418.00 L293.50,421.50 L292.00,423.00 L264.20,423.20 Z"/></clipPath>
<path d="M264.20,410.40 L285.00,409.70 L294.00,410.50 L297.50,412.50 L293.00,414.50 L291.00,418.00 L293.50,421.50 L292.00,423.00 L264.20,423.20 Z" fill="url(#gD)" filter="url(#fib)"/>
<g clip-path="url(#cp8)"><rect x="264.20" y="422.00" width="33.30" height="1.2" fill="#5a3f14" opacity="0.4"/></g>
<path d="M298.00,415.70 L305.00,414.00 L327.90,414.90 L327.90,425.70 L300.00,425.70 L298.00,421.20 L296.50,418.70 Z" fill="#5e5446" opacity="0.55"/>
<clipPath id="cp9"><path d="M298.00,413.50 L305.00,411.80 L327.90,412.70 L327.90,423.50 L300.00,423.50 L298.00,419.00 L296.50,416.50 Z"/></clipPath>
<path d="M298.00,413.50 L305.00,411.80 L327.90,412.70 L327.90,423.50 L300.00,423.50 L298.00,419.00 L296.50,416.50 Z" fill="url(#gD)" filter="url(#fib)"/>
<g clip-path="url(#cp9)"><rect x="296.50" y="422.30" width="31.40" height="1.2" fill="#5a3f14" opacity="0.4"/></g>
<ellipse cx="309" cy="418" rx="4" ry="2.2" fill="#e4dccb" opacity="0.6"/><ellipse cx="309" cy="418" rx="1.80" ry="0.99" fill="#8a8478" opacity="0.45"/>
<rect x="265.10" y="452.60" width="62.80" height="16.90" fill="url(#pbg)"/>
<path d="M265.10,461.20 L287.00,460.40 L290.00,461.70 L296.00,464.20 L297.50,466.70 L294.00,469.20 L265.10,470.00 Z" fill="#5e5446" opacity="0.55"/>
<clipPath id="cp10"><path d="M265.10,459.00 L287.00,458.20 L290.00,459.50 L296.00,462.00 L297.50,464.50 L294.00,467.00 L265.10,467.80 Z"/></clipPath>
<path d="M265.10,459.00 L287.00,458.20 L290.00,459.50 L296.00,462.00 L297.50,464.50 L294.00,467.00 L265.10,467.80 Z" fill="url(#gD)" filter="url(#fib)"/>
<g clip-path="url(#cp10)"><rect x="265.10" y="466.60" width="32.40" height="1.2" fill="#5a3f14" opacity="0.4"/></g>
<path d="M289.00,459.70 L295.00,457.70 L305.00,457.70 L327.90,458.50 L327.90,464.90 L305.00,465.20 L302.00,463.70 L292.00,462.20 L289.00,461.20 Z" fill="#5e5446" opacity="0.55"/>
<clipPath id="cp11"><path d="M289.00,457.50 L295.00,455.50 L305.00,455.50 L327.90,456.30 L327.90,462.70 L305.00,463.00 L302.00,461.50 L292.00,460.00 L289.00,459.00 Z"/></clipPath>
<path d="M289.00,457.50 L295.00,455.50 L305.00,455.50 L327.90,456.30 L327.90,462.70 L305.00,463.00 L302.00,461.50 L292.00,460.00 L289.00,459.00 Z" fill="url(#gD)" filter="url(#fib)"/>
<g clip-path="url(#cp11)"><rect x="289.00" y="461.80" width="38.90" height="1.2" fill="#5a3f14" opacity="0.4"/></g>
<ellipse cx="309" cy="459" rx="4" ry="2.6" fill="#e4dccb" opacity="0.6"/><ellipse cx="309" cy="459" rx="1.80" ry="1.17" fill="#8a8478" opacity="0.45"/>
<ellipse cx="293" cy="465.5" rx="2.2" ry="1.5" fill="#e4dccb" opacity="0.6"/><ellipse cx="293" cy="465.5" rx="0.99" ry="0.68" fill="#8a8478" opacity="0.45"/>
<path d="M61.55,467.00 C61.71,466.47 62.16,464.89 62.51,463.83 C62.86,462.77 63.24,461.72 63.64,460.66 C64.04,459.61 64.48,458.55 64.93,457.49 C65.38,456.44 65.86,455.38 66.36,454.32 C66.86,453.27 67.38,452.21 67.92,451.15 C68.45,450.10 69.01,449.04 69.58,447.98 C70.16,446.93 70.75,445.87 71.35,444.82 C71.95,443.76 72.57,442.70 73.20,441.65 C73.83,440.59 74.47,439.53 75.12,438.48 C75.77,437.42 76.43,436.36 77.10,435.31 C77.77,434.25 78.45,433.19 79.13,432.14 C79.82,431.08 80.51,430.03 81.21,428.97 C81.91,427.91 82.61,426.86 83.31,425.80 C84.02,424.74 84.73,423.69 85.44,422.63 C86.16,421.57 86.87,420.52 87.59,419.46 C88.31,418.41 89.02,417.35 89.74,416.29 C90.46,415.24 91.18,414.18 91.90,413.12 C92.62,412.07 93.34,411.01 94.06,409.95 C94.78,408.90 95.50,407.84 96.21,406.78 C96.93,405.73 97.64,404.67 98.36,403.62 C99.07,402.56 99.78,401.50 100.49,400.45 C101.20,399.39 101.90,398.33 102.61,397.28 C103.31,396.22 104.01,395.16 104.71,394.11 C105.41,393.05 106.11,391.99 106.80,390.94 C107.50,389.88 108.19,388.83 108.88,387.77 C109.57,386.71 110.26,385.66 110.94,384.60 C111.63,383.54 112.31,382.49 112.99,381.43 C113.68,380.37 114.36,379.32 115.04,378.26 C115.72,377.21 116.40,376.15 117.08,375.09 C117.76,374.04 118.44,372.98 119.12,371.92 C119.80,370.87 120.48,369.81 121.17,368.75 C121.85,367.70 122.54,366.64 123.22,365.58 C123.91,364.53 124.60,363.47 125.30,362.42 C126.00,361.36 126.70,360.30 127.40,359.25 C128.11,358.19 128.82,357.13 129.54,356.08 C130.26,355.02 130.98,353.96 131.72,352.91 C132.46,351.85 133.20,350.79 133.95,349.74 C134.71,348.68 135.47,347.63 136.25,346.57 C137.03,345.51 138.23,343.93 138.62,343.40 L138.90,343.10 L138.90,481.80" fill="none" stroke="#111111" stroke-width="1.7" stroke-linejoin="round"/>
<path d="M62.32,470.00 C62.68,469.34 63.75,467.36 64.48,466.04 C65.21,464.72 65.95,463.40 66.69,462.08 C67.44,460.76 68.20,459.44 68.96,458.12 C69.73,456.80 70.50,455.48 71.29,454.16 C72.07,452.84 72.86,451.52 73.66,450.21 C74.46,448.89 75.27,447.57 76.08,446.25 C76.90,444.93 77.72,443.61 78.55,442.29 C79.38,440.97 80.22,439.65 81.07,438.33 C81.91,437.01 82.77,435.69 83.63,434.37 C84.49,433.05 85.35,431.73 86.23,430.41 C87.10,429.09 87.98,427.77 88.87,426.45 C89.76,425.13 90.65,423.81 91.55,422.49 C92.45,421.17 93.35,419.85 94.26,418.53 C95.17,417.21 96.09,415.89 97.01,414.57 C97.94,413.25 98.86,411.94 99.80,410.62 C100.73,409.30 101.67,407.98 102.61,406.66 C103.56,405.34 104.51,404.02 105.46,402.70 C106.41,401.38 107.37,400.06 108.33,398.74 C109.29,397.42 110.26,396.10 111.23,394.78 C112.20,393.46 113.18,392.14 114.15,390.82 C115.13,389.50 116.12,388.18 117.10,386.86 C118.09,385.54 119.08,384.22 120.07,382.90 C121.06,381.58 122.06,380.26 123.05,378.94 C124.05,377.62 125.05,376.30 126.06,374.98 C127.06,373.66 128.07,372.35 129.08,371.03 C130.09,369.71 131.10,368.39 132.11,367.07 C133.13,365.75 134.14,364.43 135.16,363.11 C136.18,361.79 137.19,360.47 138.21,359.15 C139.23,357.83 140.26,356.51 141.28,355.19 C142.30,353.87 143.33,352.55 144.35,351.23 C145.38,349.91 146.40,348.59 147.43,347.27 C148.46,345.95 149.48,344.63 150.51,343.31 C151.54,341.99 152.57,340.67 153.59,339.35 C154.62,338.03 155.65,336.71 156.68,335.39 C157.70,334.08 158.73,332.76 159.76,331.44 C160.78,330.12 161.81,328.80 162.83,327.48 C163.86,326.16 164.88,324.84 165.91,323.52 C166.93,322.20 167.95,320.88 168.97,319.56 C169.99,318.24 171.52,316.26 172.03,315.60 L172.20,315.60 L173.20,317.60 L173.20,317.60 L195.30,288.70 L195.30,288.70 C195.45,288.63 195.95,288.15 196.20,288.30 C196.45,288.45 196.70,289.38 196.80,289.60 L196.80,289.60 L196.80,481.80" fill="none" stroke="#ea4a4a" stroke-width="1.7" stroke-linejoin="round"/>
<path d="M61.80,474.00 C62.08,473.42 62.88,471.47 63.50,470.50 C64.12,469.53 64.82,468.78 65.50,468.20 C66.18,467.62 67.25,467.20 67.60,467.00 L68.02,467.00 C69.26,466.31 73.08,464.23 75.46,462.85 C77.84,461.46 80.12,460.08 82.31,458.69 C84.51,457.31 86.61,455.92 88.63,454.54 C90.65,453.15 92.59,451.77 94.45,450.38 C96.32,449.00 98.11,447.62 99.83,446.23 C101.55,444.85 103.20,443.46 104.80,442.08 C106.39,440.69 107.92,439.31 109.40,437.92 C110.88,436.54 112.30,435.15 113.68,433.77 C115.05,432.38 116.37,431.00 117.66,429.62 C118.94,428.23 120.18,426.85 121.38,425.46 C122.59,424.08 123.75,422.69 124.88,421.31 C126.02,419.92 127.11,418.54 128.19,417.15 C129.26,415.77 130.30,414.38 131.33,413.00 C132.35,411.62 133.34,410.23 134.32,408.85 C135.30,407.46 136.25,406.08 137.20,404.69 C138.14,403.31 139.07,401.92 139.98,400.54 C140.89,399.15 141.79,397.77 142.69,396.38 C143.58,395.00 144.46,393.62 145.33,392.23 C146.21,390.85 147.08,389.46 147.94,388.08 C148.80,386.69 149.66,385.31 150.52,383.92 C151.37,382.54 152.22,381.15 153.08,379.77 C153.93,378.38 154.78,377.00 155.63,375.62 C156.48,374.23 157.33,372.85 158.18,371.46 C159.03,370.08 159.89,368.69 160.74,367.31 C161.59,365.92 162.45,364.54 163.31,363.15 C164.16,361.77 165.02,360.38 165.89,359.00 C166.75,357.62 167.61,356.23 168.47,354.85 C169.34,353.46 170.20,352.08 171.07,350.69 C171.94,349.31 172.80,347.92 173.67,346.54 C174.53,345.15 175.40,343.77 176.26,342.38 C177.13,341.00 177.99,339.62 178.85,338.23 C179.70,336.85 180.56,335.46 181.40,334.08 C182.25,332.69 183.10,331.31 183.93,329.92 C184.76,328.54 185.59,327.15 186.40,325.77 C187.21,324.38 188.02,323.00 188.80,321.62 C189.59,320.23 190.37,318.85 191.12,317.46 C191.87,316.08 192.61,314.69 193.33,313.31 C194.04,311.92 194.74,310.54 195.41,309.15 C196.07,307.77 197.01,305.69 197.33,305.00 L198.10,305.10 L198.10,481.80" fill="none" stroke="#2a6fd6" stroke-width="1.7" stroke-linejoin="round"/>
<path d="M62.34,468.00 C62.61,467.22 63.33,464.90 63.97,463.34 C64.61,461.79 65.35,460.24 66.16,458.69 C66.96,457.14 67.86,455.58 68.80,454.03 C69.75,452.48 70.76,450.93 71.82,449.37 C72.87,447.82 73.98,446.27 75.12,444.72 C76.26,443.17 77.44,441.61 78.64,440.06 C79.84,438.51 81.08,436.96 82.32,435.41 C83.57,433.85 84.84,432.30 86.11,430.75 C87.39,429.20 88.67,427.64 89.96,426.09 C91.25,424.54 92.55,422.99 93.84,421.44 C95.13,419.88 96.42,418.33 97.70,416.78 C98.99,415.23 100.27,413.68 101.54,412.12 C102.81,410.57 104.08,409.02 105.33,407.47 C106.58,405.91 107.82,404.36 109.05,402.81 C110.28,401.26 111.50,399.71 112.71,398.15 C113.91,396.60 115.11,395.05 116.29,393.50 C117.47,391.95 118.63,390.39 119.79,388.84 C120.94,387.29 122.08,385.74 123.22,384.18 C124.35,382.63 125.46,381.08 126.57,379.53 C127.68,377.98 128.78,376.42 129.87,374.87 C130.96,373.32 132.04,371.77 133.11,370.22 C134.19,368.66 135.25,367.11 136.31,365.56 C137.37,364.01 138.43,362.45 139.48,360.90 C140.53,359.35 141.58,357.80 142.62,356.25 C143.67,354.69 144.71,353.14 145.75,351.59 C146.79,350.04 147.83,348.49 148.88,346.93 C149.92,345.38 150.96,343.83 152.00,342.28 C153.05,340.72 154.09,339.17 155.14,337.62 C156.19,336.07 157.24,334.52 158.29,332.96 C159.34,331.41 160.39,329.86 161.45,328.31 C162.50,326.76 163.56,325.20 164.61,323.65 C165.67,322.10 166.72,320.55 167.77,318.99 C168.83,317.44 169.88,315.89 170.92,314.34 C171.97,312.79 173.01,311.23 174.04,309.68 C175.07,308.13 176.10,306.58 177.10,305.03 C178.11,303.47 179.11,301.92 180.08,300.37 C181.05,298.82 182.01,297.26 182.94,295.71 C183.86,294.16 184.77,292.61 185.63,291.06 C186.49,289.50 187.69,287.18 188.10,286.40 L189.20,286.70 L189.20,481.80" fill="none" stroke="#3aa56a" stroke-width="1.7" stroke-linejoin="round"/>
<path d="M61.75,477.00 C61.78,476.64 61.78,475.58 61.92,474.86 C62.05,474.15 62.27,473.44 62.55,472.73 C62.83,472.02 63.18,471.30 63.57,470.59 C63.97,469.88 64.42,469.17 64.91,468.46 C65.40,467.74 65.94,467.03 66.50,466.32 C67.06,465.61 67.66,464.90 68.28,464.18 C68.89,463.47 69.54,462.76 70.20,462.05 C70.85,461.34 71.53,460.62 72.22,459.91 C72.90,459.20 73.60,458.49 74.30,457.78 C75.00,457.06 75.70,456.35 76.41,455.64 C77.11,454.93 77.82,454.22 78.53,453.51 C79.23,452.79 79.94,452.08 80.63,451.37 C81.33,450.66 82.02,449.95 82.71,449.23 C83.39,448.52 84.07,447.81 84.74,447.10 C85.41,446.39 86.07,445.67 86.73,444.96 C87.38,444.25 88.03,443.54 88.66,442.83 C89.30,442.11 89.93,441.40 90.55,440.69 C91.17,439.98 91.78,439.27 92.38,438.55 C92.98,437.84 93.58,437.13 94.17,436.42 C94.76,435.71 95.34,434.99 95.91,434.28 C96.49,433.57 97.06,432.86 97.63,432.15 C98.19,431.43 98.75,430.72 99.31,430.01 C99.87,429.30 100.43,428.59 100.98,427.87 C101.53,427.16 102.09,426.45 102.64,425.74 C103.19,425.03 103.74,424.31 104.29,423.60 C104.85,422.89 105.40,422.18 105.95,421.47 C106.51,420.75 107.06,420.04 107.62,419.33 C108.18,418.62 108.74,417.91 109.30,417.19 C109.87,416.48 110.43,415.77 111.00,415.06 C111.57,414.35 112.14,413.64 112.71,412.92 C113.28,412.21 113.85,411.50 114.43,410.79 C115.00,410.08 115.57,409.36 116.14,408.65 C116.71,407.94 117.29,407.23 117.85,406.52 C118.41,405.80 118.98,405.09 119.53,404.38 C120.08,403.67 120.63,402.96 121.16,402.24 C121.69,401.53 122.21,400.82 122.71,400.11 C123.21,399.40 123.70,398.68 124.16,397.97 C124.61,397.26 125.06,396.55 125.46,395.84 C125.86,395.12 126.38,394.06 126.57,393.70 L126.60,393.70 L127.40,403.20 L127.21,403.20 C127.35,402.95 127.74,402.21 128.00,401.72 C128.27,401.22 128.53,400.73 128.80,400.24 C129.07,399.74 129.34,399.25 129.62,398.75 C129.89,398.26 130.16,397.77 130.44,397.27 C130.72,396.78 131.00,396.28 131.28,395.79 C131.56,395.30 131.84,394.80 132.12,394.31 C132.41,393.81 132.69,393.32 132.98,392.83 C133.27,392.33 133.56,391.84 133.85,391.34 C134.14,390.85 134.43,390.36 134.73,389.86 C135.02,389.37 135.32,388.87 135.61,388.38 C135.91,387.89 136.21,387.39 136.51,386.90 C136.81,386.40 137.11,385.91 137.41,385.42 C137.71,384.92 138.01,384.43 138.32,383.93 C138.62,383.44 138.93,382.95 139.23,382.45 C139.54,381.96 139.85,381.46 140.16,380.97 C140.46,380.48 140.77,379.98 141.08,379.49 C141.39,378.99 141.70,378.50 142.02,378.01 C142.33,377.51 142.64,377.02 142.95,376.52 C143.27,376.03 143.58,375.54 143.90,375.04 C144.21,374.55 144.53,374.05 144.84,373.56 C145.16,373.06 145.47,372.57 145.79,372.08 C146.11,371.58 146.43,371.09 146.74,370.59 C147.06,370.10 147.38,369.61 147.70,369.11 C148.02,368.62 148.33,368.12 148.65,367.63 C148.97,367.14 149.29,366.64 149.61,366.15 C149.93,365.65 150.25,365.16 150.57,364.67 C150.89,364.17 151.21,363.68 151.53,363.18 C151.84,362.69 152.16,362.20 152.48,361.70 C152.80,361.21 153.12,360.71 153.44,360.22 C153.76,359.73 154.08,359.23 154.39,358.74 C154.71,358.24 155.03,357.75 155.35,357.26 C155.66,356.76 155.98,356.27 156.30,355.77 C156.61,355.28 156.93,354.79 157.24,354.29 C157.56,353.80 157.87,353.30 158.19,352.81 C158.50,352.32 158.81,351.82 159.13,351.33 C159.44,350.83 159.75,350.34 160.06,349.85 C160.37,349.35 160.68,348.86 160.99,348.36 C161.30,347.87 161.61,347.38 161.92,346.88 C162.22,346.39 162.68,345.65 162.84,345.40 L162.80,345.80 L162.80,481.80" fill="none" stroke="#b679e6" stroke-width="1.7" stroke-linejoin="round"/>
<line x1="210.40" y1="286.60" x2="234.20" y2="286.60" stroke="#111111" stroke-width="1.6" />
<text x="239.00" y="287.60" font-size="9.3" fill="#000" text-anchor="start" font-weight="bold" dominant-baseline="central" >untreated</text>
<line x1="210.40" y1="330.10" x2="234.20" y2="330.10" stroke="#ea4a4a" stroke-width="1.6" />
<text x="239.00" y="331.20" font-size="9.9" fill="#000" font-weight="bold" dominant-baseline="central">23</text>
<circle cx="251.91" cy="328.13" r="0.75" fill="none" stroke="#000" stroke-width="0.6" opacity="0.8"/>
<text x="252.81" y="331.20" font-size="10.59" fill="#000" font-weight="normal" dominant-baseline="central" opacity="0.8">C</text>
<line x1="210.40" y1="373.80" x2="234.20" y2="373.80" stroke="#2a6fd6" stroke-width="1.6" />
<text x="239.00" y="374.90" font-size="9.9" fill="#000" font-weight="bold" dominant-baseline="central">40</text>
<circle cx="251.91" cy="371.83" r="0.75" fill="none" stroke="#000" stroke-width="0.6" opacity="0.8"/>
<text x="252.81" y="374.90" font-size="10.59" fill="#000" font-weight="normal" dominant-baseline="central" opacity="0.8">C</text>
<line x1="210.40" y1="417.00" x2="234.20" y2="417.00" stroke="#3aa56a" stroke-width="1.6" />
<text x="239.00" y="418.10" font-size="9.9" fill="#000" font-weight="bold" dominant-baseline="central">60</text>
<circle cx="251.91" cy="415.03" r="0.75" fill="none" stroke="#000" stroke-width="0.6" opacity="0.8"/>
<text x="252.81" y="418.10" font-size="10.59" fill="#000" font-weight="normal" dominant-baseline="central" opacity="0.8">C</text>
<line x1="210.40" y1="460.50" x2="234.20" y2="460.50" stroke="#b679e6" stroke-width="1.6" />
<text x="239.00" y="461.60" font-size="9.9" fill="#000" font-weight="bold" dominant-baseline="central">80</text>
<circle cx="251.91" cy="458.53" r="0.75" fill="none" stroke="#000" stroke-width="0.6" opacity="0.8"/>
<text x="252.81" y="461.60" font-size="10.59" fill="#000" font-weight="normal" dominant-baseline="central" opacity="0.8">C</text>
<text x="0.50" y="265.40" font-size="18.6" fill="#000" text-anchor="start" font-weight="bold" dominant-baseline="central" >(c)</text>
<text x="13.00" y="369.50" font-size="14" fill="#000" text-anchor="middle" font-weight="bold" dominant-baseline="central" transform="rotate(-90 13.00 369.50)" >Force (N)</text>
<text x="196.50" y="513.00" font-size="14.3" fill="#000" text-anchor="middle" font-weight="bold" dominant-baseline="central" >Displacement (mm)</text>
<line x1="415.40" y1="264.60" x2="678.60" y2="264.60" stroke="#000" stroke-width="1.5" />
<line x1="415.40" y1="478.90" x2="678.60" y2="478.90" stroke="#000" stroke-width="1.5" />
<line x1="415.40" y1="263.90" x2="415.40" y2="479.60" stroke="#000" stroke-width="1.6" />
<line x1="678.60" y1="263.90" x2="678.60" y2="479.60" stroke="#000" stroke-width="1.6" />
<line x1="411.40" y1="433.90" x2="415.40" y2="433.90" stroke="#000" stroke-width="1.3" />
<text x="408.60" y="433.90" font-size="11.8" fill="#000" text-anchor="end" font-weight="bold" dominant-baseline="central" >100</text>
<line x1="411.40" y1="377.40" x2="415.40" y2="377.40" stroke="#000" stroke-width="1.3" />
<text x="408.60" y="377.40" font-size="11.8" fill="#000" text-anchor="end" font-weight="bold" dominant-baseline="central" >200</text>
<line x1="411.40" y1="320.90" x2="415.40" y2="320.90" stroke="#000" stroke-width="1.3" />
<text x="408.60" y="320.90" font-size="11.8" fill="#000" text-anchor="end" font-weight="bold" dominant-baseline="central" >300</text>
<line x1="411.40" y1="264.60" x2="415.40" y2="264.60" stroke="#000" stroke-width="1.3" />
<text x="408.60" y="264.60" font-size="11.8" fill="#000" text-anchor="end" font-weight="bold" dominant-baseline="central" >400</text>
<line x1="413.40" y1="462.20" x2="415.40" y2="462.20" stroke="#000" stroke-width="1.2" />
<line x1="413.40" y1="405.60" x2="415.40" y2="405.60" stroke="#000" stroke-width="1.2" />
<line x1="413.40" y1="349.10" x2="415.40" y2="349.10" stroke="#000" stroke-width="1.2" />
<line x1="413.40" y1="292.80" x2="415.40" y2="292.80" stroke="#000" stroke-width="1.2" />
<line x1="444.60" y1="478.90" x2="444.60" y2="482.90" stroke="#000" stroke-width="1.3" />
<text x="444.60" y="492.10" font-size="11.3" fill="#000" text-anchor="middle" font-weight="bold" dominant-baseline="central" >1</text>
<line x1="503.05" y1="478.90" x2="503.05" y2="482.90" stroke="#000" stroke-width="1.3" />
<text x="503.05" y="492.10" font-size="11.3" fill="#000" text-anchor="middle" font-weight="bold" dominant-baseline="central" >2</text>
<line x1="561.50" y1="478.90" x2="561.50" y2="482.90" stroke="#000" stroke-width="1.3" />
<text x="561.50" y="492.10" font-size="11.3" fill="#000" text-anchor="middle" font-weight="bold" dominant-baseline="central" >3</text>
<line x1="619.95" y1="478.90" x2="619.95" y2="482.90" stroke="#000" stroke-width="1.3" />
<text x="619.95" y="492.10" font-size="11.3" fill="#000" text-anchor="middle" font-weight="bold" dominant-baseline="central" >4</text>
<line x1="678.40" y1="478.90" x2="678.40" y2="482.90" stroke="#000" stroke-width="1.3" />
<text x="678.40" y="492.10" font-size="11.3" fill="#000" text-anchor="middle" font-weight="bold" dominant-baseline="central" >5</text>
<line x1="473.83" y1="478.90" x2="473.83" y2="481.20" stroke="#000" stroke-width="1.2" />
<line x1="532.28" y1="478.90" x2="532.28" y2="481.20" stroke="#000" stroke-width="1.2" />
<line x1="590.73" y1="478.90" x2="590.73" y2="481.20" stroke="#000" stroke-width="1.2" />
<line x1="649.18" y1="478.90" x2="649.18" y2="481.20" stroke="#000" stroke-width="1.2" />
<rect x="616.60" y="297.90" width="58.30" height="17.60" fill="url(#pbg)"/>
<path d="M616.60,303.40 L639.00,303.40 L640.70,305.20 L639.00,307.20 L640.70,309.70 L639.50,311.70 L640.20,314.40 L616.60,314.40 Z" fill="#5e5446" opacity="0.55"/>
<clipPath id="cp12"><path d="M616.60,301.20 L639.00,301.20 L640.70,303.00 L639.00,305.00 L640.70,307.50 L639.50,309.50 L640.20,312.20 L616.60,312.20 Z"/></clipPath>
<path d="M616.60,301.20 L639.00,301.20 L640.70,303.00 L639.00,305.00 L640.70,307.50 L639.50,309.50 L640.20,312.20 L616.60,312.20 Z" fill="url(#gL)" filter="url(#fib)"/>
<g clip-path="url(#cp12)"><rect x="616.60" y="311.00" width="24.10" height="1.2" fill="#5a3f14" opacity="0.4"/></g>
<path d="M646.80,303.40 L674.90,303.40 L674.90,314.40 L646.50,314.40 L644.50,311.20 L646.50,309.20 L644.50,307.20 L646.50,305.20 Z" fill="#5e5446" opacity="0.55"/>
<clipPath id="cp13"><path d="M646.80,301.20 L674.90,301.20 L674.90,312.20 L646.50,312.20 L644.50,309.00 L646.50,307.00 L644.50,305.00 L646.50,303.00 Z"/></clipPath>
<path d="M646.80,301.20 L674.90,301.20 L674.90,312.20 L646.50,312.20 L644.50,309.00 L646.50,307.00 L644.50,305.00 L646.50,303.00 Z" fill="url(#gL)" filter="url(#fib)"/>
<g clip-path="url(#cp13)"><rect x="644.50" y="311.00" width="30.40" height="1.2" fill="#5a3f14" opacity="0.4"/></g>
<rect x="612.20" y="332.60" width="62.70" height="18.40" fill="url(#pbg)"/>
<path d="M612.20,338.10 L638.50,338.10 L640.10,340.20 L638.50,342.70 L640.10,345.20 L639.00,347.70 L639.80,350.10 L612.20,350.10 Z" fill="#5e5446" opacity="0.55"/>
<clipPath id="cp14"><path d="M612.20,335.90 L638.50,335.90 L640.10,338.00 L638.50,340.50 L640.10,343.00 L639.00,345.50 L639.80,347.90 L612.20,347.90 Z"/></clipPath>
<path d="M612.20,335.90 L638.50,335.90 L640.10,338.00 L638.50,340.50 L640.10,343.00 L639.00,345.50 L639.80,347.90 L612.20,347.90 Z" fill="url(#gM)" filter="url(#fib)"/>
<g clip-path="url(#cp14)"><rect x="612.20" y="346.70" width="27.90" height="1.2" fill="#5a3f14" opacity="0.4"/></g>
<path d="M645.00,338.10 L674.90,338.10 L674.90,350.10 L646.00,350.10 L644.00,345.20 L642.20,342.20 L643.70,339.70 Z" fill="#5e5446" opacity="0.55"/>
<clipPath id="cp15"><path d="M645.00,335.90 L674.90,335.90 L674.90,347.90 L646.00,347.90 L644.00,343.00 L642.20,340.00 L643.70,337.50 Z"/></clipPath>
<path d="M645.00,335.90 L674.90,335.90 L674.90,347.90 L646.00,347.90 L644.00,343.00 L642.20,340.00 L643.70,337.50 Z" fill="url(#gM)" filter="url(#fib)"/>
<g clip-path="url(#cp15)"><rect x="642.20" y="346.70" width="32.70" height="1.2" fill="#5a3f14" opacity="0.4"/></g>
<ellipse cx="657" cy="342" rx="7" ry="4.5" fill="#e4dccb" opacity="0.6"/><ellipse cx="657" cy="342" rx="3.15" ry="2.02" fill="#8a8478" opacity="0.45"/>
<rect x="654.8" y="339.8" width="5" height="5" fill="#8c8676" opacity="0.5"/>
<rect x="611.50" y="368.10" width="64.40" height="19.90" fill="url(#pbg)"/>
<path d="M611.50,373.50 L631.00,373.50 L634.50,375.70 L632.00,377.20 L634.50,378.70 L631.50,380.70 L633.50,383.20 L631.00,386.10 L611.50,386.10 Z" fill="#5e5446" opacity="0.55"/>
<clipPath id="cp16"><path d="M611.50,371.30 L631.00,371.30 L634.50,373.50 L632.00,375.00 L634.50,376.50 L631.50,378.50 L633.50,381.00 L631.00,383.90 L611.50,383.90 Z"/></clipPath>
<path d="M611.50,371.30 L631.00,371.30 L634.50,373.50 L632.00,375.00 L634.50,376.50 L631.50,378.50 L633.50,381.00 L631.00,383.90 L611.50,383.90 Z" fill="url(#gO)" filter="url(#fib)"/>
<g clip-path="url(#cp16)"><rect x="611.50" y="382.70" width="23.00" height="1.2" fill="#5a3f14" opacity="0.4"/></g>
<path d="M645.00,373.30 L652.00,372.80 L662.00,372.80 L675.90,373.50 L675.90,387.60 L644.50,387.60 L642.70,382.20 L644.00,378.20 Z" fill="#5e5446" opacity="0.55"/>
<clipPath id="cp17"><path d="M645.00,371.10 L652.00,370.60 L662.00,370.60 L675.90,371.30 L675.90,385.40 L644.50,385.40 L642.70,380.00 L644.00,376.00 Z"/></clipPath>
<path d="M645.00,371.10 L652.00,370.60 L662.00,370.60 L675.90,371.30 L675.90,385.40 L644.50,385.40 L642.70,380.00 L644.00,376.00 Z" fill="url(#gO)" filter="url(#fib)"/>
<g clip-path="url(#cp17)"><rect x="642.70" y="384.20" width="33.20" height="1.2" fill="#5a3f14" opacity="0.4"/></g>
<ellipse cx="657" cy="377.5" rx="9" ry="6.3" fill="#e4dccb" opacity="0.6"/><ellipse cx="657" cy="377.5" rx="4.05" ry="2.83" fill="#8a8478" opacity="0.45"/>
<circle cx="651.5" cy="378" r="1.6" fill="#555" opacity="0.7"/>
<circle cx="665" cy="379" r="1.6" fill="#555" opacity="0.7"/>
<rect x="611.80" y="408.30" width="63.90" height="18.50" fill="url(#pbg)"/>
<path d="M611.80,414.00 L636.80,413.80 L649.60,414.80 L649.60,415.80 L637.00,416.40 L636.00,420.20 L632.00,425.00 L611.80,425.00 Z" fill="#5e5446" opacity="0.55"/>
<clipPath id="cp18"><path d="M611.80,411.80 L636.80,411.60 L649.60,412.60 L649.60,413.60 L637.00,414.20 L636.00,418.00 L632.00,422.80 L611.80,422.80 Z"/></clipPath>
<path d="M611.80,411.80 L636.80,411.60 L649.60,412.60 L649.60,413.60 L637.00,414.20 L636.00,418.00 L632.00,422.80 L611.80,422.80 Z" fill="url(#gD)" filter="url(#fib)"/>
<g clip-path="url(#cp18)"><rect x="611.80" y="421.60" width="37.80" height="1.2" fill="#5a3f14" opacity="0.4"/></g>
<path d="M653.60,414.00 L675.70,413.40 L675.70,423.70 L654.00,424.00 L653.00,418.20 Z" fill="#5e5446" opacity="0.55"/>
<clipPath id="cp19"><path d="M653.60,411.80 L675.70,411.20 L675.70,421.50 L654.00,421.80 L653.00,416.00 Z"/></clipPath>
<path d="M653.60,411.80 L675.70,411.20 L675.70,421.50 L654.00,421.80 L653.00,416.00 Z" fill="url(#gD)" filter="url(#fib)"/>
<g clip-path="url(#cp19)"><rect x="653.00" y="420.60" width="22.70" height="1.2" fill="#5a3f14" opacity="0.4"/></g>
<rect x="611.80" y="444.90" width="63.90" height="18.10" fill="url(#pbg)"/>
<path d="M611.80,452.50 L643.00,452.50 L644.90,455.20 L643.50,461.20 L611.80,461.40 Z" fill="#5e5446" opacity="0.55"/>
<clipPath id="cp20"><path d="M611.80,450.30 L643.00,450.30 L644.90,453.00 L643.50,459.00 L611.80,459.20 Z"/></clipPath>
<path d="M611.80,450.30 L643.00,450.30 L644.90,453.00 L643.50,459.00 L611.80,459.20 Z" fill="url(#gD)" filter="url(#fib)"/>
<g clip-path="url(#cp20)"><rect x="611.80" y="458.00" width="33.10" height="1.2" fill="#5a3f14" opacity="0.4"/></g>
<path d="M648.20,449.10 L675.70,451.20 L675.70,459.40 L650.00,458.20 L649.00,454.20 Z" fill="#5e5446" opacity="0.55"/>
<clipPath id="cp21"><path d="M648.20,446.90 L675.70,449.00 L675.70,457.20 L650.00,456.00 L649.00,452.00 Z"/></clipPath>
<path d="M648.20,446.90 L675.70,449.00 L675.70,457.20 L650.00,456.00 L649.00,452.00 Z" fill="url(#gD)" filter="url(#fib)"/>
<g clip-path="url(#cp21)"><rect x="648.20" y="456.00" width="27.50" height="1.2" fill="#5a3f14" opacity="0.4"/></g>
<circle cx="626.5" cy="454.5" r="1.9" fill="#e6e6e6" opacity="0.9"/>
<circle cx="626.5" cy="454.5" r="0.9" fill="#333" opacity="0.6"/>
<path d="M415.44,468.40 C415.53,468.20 415.82,467.59 416.00,467.19 C416.19,466.79 416.38,466.39 416.57,465.98 C416.76,465.58 416.95,465.18 417.14,464.78 C417.33,464.37 417.52,463.97 417.71,463.57 C417.90,463.17 418.09,462.76 418.28,462.36 C418.48,461.96 418.67,461.56 418.86,461.15 C419.06,460.75 419.25,460.35 419.44,459.95 C419.64,459.54 419.84,459.14 420.03,458.74 C420.23,458.34 420.43,457.93 420.63,457.53 C420.83,457.13 421.03,456.73 421.23,456.32 C421.43,455.92 421.63,455.52 421.83,455.12 C422.04,454.71 422.24,454.31 422.45,453.91 C422.65,453.51 422.86,453.10 423.07,452.70 C423.28,452.30 423.49,451.89 423.70,451.49 C423.91,451.09 424.12,450.69 424.33,450.28 C424.55,449.88 424.76,449.48 424.98,449.08 C425.20,448.67 425.42,448.27 425.64,447.87 C425.86,447.47 426.08,447.06 426.30,446.66 C426.53,446.26 426.75,445.86 426.98,445.45 C427.21,445.05 427.44,444.65 427.67,444.25 C427.90,443.84 428.13,443.44 428.36,443.04 C428.60,442.64 428.84,442.23 429.08,441.83 C429.31,441.43 429.56,441.03 429.80,440.62 C430.04,440.22 430.29,439.82 430.53,439.42 C430.78,439.01 431.03,438.61 431.28,438.21 C431.54,437.81 431.79,437.40 432.05,437.00 C432.30,436.60 432.56,436.19 432.82,435.79 C433.08,435.39 433.35,434.99 433.62,434.58 C433.88,434.18 434.15,433.78 434.42,433.38 C434.69,432.97 434.97,432.57 435.25,432.17 C435.52,431.77 435.80,431.36 436.09,430.96 C436.37,430.56 436.65,430.16 436.94,429.75 C437.23,429.35 437.52,428.95 437.82,428.55 C438.11,428.14 438.41,427.74 438.71,427.34 C439.01,426.94 439.31,426.53 439.62,426.13 C439.92,425.73 440.23,425.33 440.55,424.92 C440.86,424.52 441.17,424.12 441.49,423.72 C441.81,423.31 442.13,422.91 442.46,422.51 C442.79,422.11 443.28,421.50 443.45,421.30 L443.50,421.30 L445.00,422.30 L444.86,422.30 C444.94,422.10 445.15,421.50 445.31,421.10 C445.47,420.70 445.64,420.30 445.82,419.90 C446.00,419.50 446.18,419.10 446.38,418.70 C446.57,418.30 446.78,417.90 446.99,417.50 C447.20,417.10 447.42,416.70 447.64,416.30 C447.87,415.90 448.10,415.50 448.34,415.10 C448.58,414.70 448.83,414.30 449.09,413.90 C449.34,413.50 449.60,413.10 449.87,412.70 C450.13,412.30 450.41,411.90 450.68,411.50 C450.96,411.10 451.25,410.70 451.54,410.30 C451.82,409.90 452.12,409.50 452.42,409.10 C452.72,408.70 453.02,408.30 453.33,407.90 C453.64,407.50 453.95,407.10 454.27,406.70 C454.58,406.30 454.90,405.90 455.23,405.50 C455.55,405.10 455.88,404.70 456.21,404.30 C456.53,403.90 456.87,403.50 457.20,403.10 C457.54,402.70 457.88,402.30 458.22,401.90 C458.55,401.50 458.90,401.10 459.24,400.70 C459.58,400.30 459.93,399.90 460.27,399.50 C460.62,399.10 460.97,398.70 461.32,398.30 C461.66,397.90 462.01,397.50 462.36,397.10 C462.71,396.70 463.06,396.30 463.41,395.90 C463.76,395.50 464.11,395.10 464.45,394.70 C464.80,394.30 465.15,393.90 465.50,393.50 C465.84,393.10 466.19,392.70 466.53,392.30 C466.88,391.90 467.22,391.50 467.56,391.10 C467.90,390.70 468.24,390.30 468.58,389.90 C468.91,389.50 469.25,389.10 469.58,388.70 C469.91,388.30 470.23,387.90 470.56,387.50 C470.88,387.10 471.21,386.70 471.52,386.30 C471.84,385.90 472.15,385.50 472.46,385.10 C472.77,384.70 473.08,384.30 473.38,383.90 C473.68,383.50 473.98,383.10 474.27,382.70 C474.56,382.30 474.84,381.90 475.12,381.50 C475.41,381.10 475.68,380.70 475.95,380.30 C476.22,379.90 476.48,379.50 476.74,379.10 C476.99,378.70 477.24,378.30 477.49,377.90 C477.73,377.50 477.97,377.10 478.20,376.70 C478.42,376.30 478.75,375.70 478.86,375.50 L479.00,375.50 L479.00,478.90" fill="none" stroke="#111111" stroke-width="1.7" stroke-linejoin="round"/>
<path d="M417.80,469.50 C418.04,469.08 418.76,467.81 419.25,466.96 C419.74,466.12 420.22,465.27 420.71,464.42 C421.20,463.58 421.69,462.73 422.19,461.88 C422.68,461.04 423.17,460.19 423.67,459.35 C424.16,458.50 424.66,457.65 425.16,456.81 C425.66,455.96 426.16,455.12 426.66,454.27 C427.16,453.42 427.67,452.58 428.17,451.73 C428.68,450.88 429.19,450.04 429.69,449.19 C430.20,448.35 430.71,447.50 431.22,446.65 C431.74,445.81 432.25,444.96 432.76,444.12 C433.28,443.27 433.80,442.42 434.31,441.58 C434.83,440.73 435.35,439.88 435.87,439.04 C436.39,438.19 436.92,437.35 437.44,436.50 C437.97,435.65 438.49,434.81 439.02,433.96 C439.55,433.12 440.07,432.27 440.61,431.42 C441.14,430.58 441.67,429.73 442.20,428.88 C442.73,428.04 443.27,427.19 443.81,426.35 C444.34,425.50 444.88,424.65 445.42,423.81 C445.96,422.96 446.50,422.12 447.04,421.27 C447.59,420.42 448.13,419.58 448.68,418.73 C449.22,417.88 449.77,417.04 450.32,416.19 C450.87,415.35 451.42,414.50 451.97,413.65 C452.52,412.81 453.07,411.96 453.63,411.12 C454.18,410.27 454.74,409.42 455.30,408.58 C455.85,407.73 456.41,406.88 456.97,406.04 C457.53,405.19 458.10,404.35 458.66,403.50 C459.22,402.65 459.79,401.81 460.35,400.96 C460.92,400.12 461.49,399.27 462.06,398.42 C462.63,397.58 463.20,396.73 463.77,395.88 C464.34,395.04 464.91,394.19 465.49,393.35 C466.06,392.50 466.64,391.65 467.22,390.81 C467.79,389.96 468.37,389.12 468.95,388.27 C469.54,387.42 470.12,386.58 470.70,385.73 C471.28,384.88 471.87,384.04 472.45,383.19 C473.04,382.35 473.63,381.50 474.22,380.65 C474.81,379.81 475.40,378.96 475.99,378.12 C476.58,377.27 477.17,376.42 477.77,375.58 C478.36,374.73 478.96,373.88 479.55,373.04 C480.15,372.19 481.05,370.92 481.35,370.50 L481.40,370.50 L482.20,373.00 L481.67,373.00 C481.85,372.72 482.37,371.88 482.73,371.31 C483.08,370.75 483.43,370.19 483.79,369.63 C484.14,369.06 484.49,368.50 484.85,367.94 C485.21,367.38 485.56,366.81 485.92,366.25 C486.28,365.69 486.63,365.13 486.99,364.56 C487.35,364.00 487.71,363.44 488.07,362.88 C488.43,362.31 488.80,361.75 489.16,361.19 C489.52,360.63 489.88,360.06 490.25,359.50 C490.61,358.94 490.98,358.38 491.34,357.82 C491.71,357.25 492.08,356.69 492.44,356.13 C492.81,355.57 493.18,355.00 493.55,354.44 C493.92,353.88 494.29,353.32 494.66,352.75 C495.03,352.19 495.40,351.63 495.78,351.07 C496.15,350.50 496.52,349.94 496.90,349.38 C497.27,348.82 497.65,348.25 498.02,347.69 C498.40,347.13 498.78,346.57 499.16,346.01 C499.53,345.44 499.91,344.88 500.29,344.32 C500.67,343.76 501.05,343.19 501.43,342.63 C501.81,342.07 502.20,341.51 502.58,340.94 C502.96,340.38 503.35,339.82 503.73,339.26 C504.12,338.69 504.50,338.13 504.89,337.57 C505.28,337.01 505.66,336.44 506.05,335.88 C506.44,335.32 506.83,334.76 507.22,334.19 C507.61,333.63 508.00,333.07 508.39,332.51 C508.78,331.95 509.18,331.38 509.57,330.82 C509.96,330.26 510.36,329.70 510.75,329.13 C511.15,328.57 511.54,328.01 511.94,327.45 C512.34,326.88 512.73,326.32 513.13,325.76 C513.53,325.20 513.93,324.63 514.33,324.07 C514.73,323.51 515.13,322.95 515.54,322.38 C515.94,321.82 516.34,321.26 516.74,320.70 C517.15,320.14 517.55,319.57 517.96,319.01 C518.36,318.45 518.77,317.89 519.18,317.32 C519.58,316.76 519.99,316.20 520.40,315.64 C520.81,315.07 521.22,314.51 521.63,313.95 C522.04,313.39 522.45,312.82 522.86,312.26 C523.28,311.70 523.69,311.14 524.10,310.57 C524.52,310.01 524.93,309.45 525.35,308.89 C525.76,308.32 526.29,307.48 526.60,307.20 C526.91,306.92 527.10,307.20 527.20,307.20 L527.30,306.90 L527.30,478.90" fill="none" stroke="#ea4a4a" stroke-width="1.7" stroke-linejoin="round"/>
<path d="M415.51,460.50 C415.84,459.75 416.87,457.51 417.50,456.02 C418.14,454.52 418.75,453.03 419.34,451.53 C419.92,450.04 420.49,448.54 421.04,447.05 C421.59,445.55 422.11,444.06 422.63,442.56 C423.15,441.07 423.66,439.57 424.15,438.08 C424.65,436.58 425.13,435.09 425.62,433.59 C426.10,432.10 426.57,430.60 427.05,429.11 C427.52,427.61 427.99,426.12 428.46,424.62 C428.94,423.13 429.41,421.63 429.89,420.14 C430.37,418.64 430.85,417.15 431.34,415.65 C431.83,414.16 432.32,412.66 432.83,411.17 C433.34,409.67 433.85,408.18 434.38,406.68 C434.90,405.19 435.44,403.69 435.99,402.20 C436.54,400.71 437.10,399.21 437.68,397.72 C438.26,396.22 438.85,394.73 439.46,393.23 C440.07,391.74 440.70,390.24 441.34,388.75 C441.98,387.25 442.64,385.76 443.32,384.26 C444.00,382.77 444.69,381.27 445.41,379.78 C446.12,378.28 446.86,376.79 447.61,375.29 C448.36,373.80 449.13,372.30 449.92,370.81 C450.71,369.31 451.52,367.82 452.35,366.32 C453.18,364.83 454.03,363.33 454.89,361.84 C455.76,360.34 456.64,358.85 457.54,357.35 C458.45,355.86 459.37,354.36 460.30,352.87 C461.24,351.37 462.19,349.88 463.16,348.38 C464.13,346.89 465.11,345.39 466.11,343.90 C467.10,342.41 468.12,340.91 469.14,339.42 C470.16,337.92 471.20,336.43 472.25,334.93 C473.29,333.44 474.35,331.94 475.41,330.45 C476.47,328.95 477.55,327.46 478.62,325.96 C479.70,324.47 480.78,322.97 481.87,321.48 C482.95,319.98 484.04,318.49 485.13,316.99 C486.21,315.50 487.30,314.00 488.38,312.51 C489.46,311.01 490.54,309.52 491.61,308.02 C492.68,306.53 493.75,305.03 494.80,303.54 C495.85,302.04 496.89,300.55 497.92,299.05 C498.94,297.56 499.95,296.06 500.94,294.57 C501.93,293.07 502.90,291.58 503.85,290.08 C504.79,288.59 506.14,286.35 506.60,285.60 L507.10,285.60 L507.10,478.90" fill="none" stroke="#2a6fd6" stroke-width="1.7" stroke-linejoin="round"/>
<path d="M415.37,465.00 C415.75,464.30 416.92,462.22 417.64,460.82 C418.35,459.43 419.01,458.04 419.66,456.65 C420.30,455.25 420.91,453.86 421.50,452.47 C422.09,451.08 422.66,449.68 423.21,448.29 C423.77,446.90 424.31,445.51 424.85,444.12 C425.39,442.72 425.91,441.33 426.44,439.94 C426.97,438.55 427.49,437.15 428.03,435.76 C428.56,434.37 429.09,432.98 429.64,431.58 C430.18,430.19 430.73,428.80 431.30,427.41 C431.86,426.02 432.43,424.62 433.02,423.23 C433.61,421.84 434.21,420.45 434.83,419.05 C435.45,417.66 436.08,416.27 436.73,414.88 C437.38,413.48 438.05,412.09 438.74,410.70 C439.42,409.31 440.13,407.92 440.85,406.52 C441.57,405.13 442.31,403.74 443.07,402.35 C443.83,400.95 444.60,399.56 445.39,398.17 C446.19,396.78 447.00,395.38 447.83,393.99 C448.65,392.60 449.50,391.21 450.36,389.82 C451.22,388.42 452.09,387.03 452.98,385.64 C453.87,384.25 454.78,382.85 455.70,381.46 C456.61,380.07 457.55,378.68 458.49,377.28 C459.43,375.89 460.39,374.50 461.35,373.11 C462.32,371.72 463.30,370.32 464.28,368.93 C465.27,367.54 466.26,366.15 467.26,364.75 C468.27,363.36 469.28,361.97 470.30,360.58 C471.32,359.18 472.34,357.79 473.37,356.40 C474.41,355.01 475.45,353.62 476.49,352.22 C477.54,350.83 478.59,349.44 479.65,348.05 C480.70,346.65 481.77,345.26 482.84,343.87 C483.91,342.48 484.99,341.08 486.07,339.69 C487.16,338.30 488.25,336.91 489.35,335.52 C490.45,334.12 491.56,332.73 492.68,331.34 C493.81,329.95 494.94,328.55 496.08,327.16 C497.23,325.77 498.39,324.38 499.57,322.98 C500.75,321.59 501.94,320.20 503.16,318.81 C504.38,317.42 505.61,316.02 506.88,314.63 C508.15,313.24 509.43,311.85 510.76,310.45 C512.09,309.06 513.44,307.67 514.84,306.28 C516.24,304.88 518.44,302.80 519.16,302.10 L519.10,302.10 L519.10,478.90" fill="none" stroke="#3aa56a" stroke-width="1.7" stroke-linejoin="round"/>
<path d="M416.25,469.60 C416.52,469.07 417.35,467.49 417.90,466.44 C418.45,465.39 419.00,464.34 419.54,463.28 C420.09,462.23 420.63,461.18 421.17,460.12 C421.71,459.07 422.25,458.02 422.79,456.96 C423.32,455.91 423.86,454.86 424.40,453.81 C424.93,452.75 425.47,451.70 426.00,450.65 C426.54,449.59 427.07,448.54 427.61,447.49 C428.15,446.43 428.68,445.38 429.22,444.33 C429.76,443.28 430.30,442.22 430.84,441.17 C431.38,440.12 431.92,439.06 432.46,438.01 C433.01,436.96 433.55,435.90 434.10,434.85 C434.65,433.80 435.20,432.75 435.76,431.69 C436.31,430.64 436.87,429.59 437.43,428.53 C437.99,427.48 438.56,426.43 439.13,425.37 C439.70,424.32 440.27,423.27 440.85,422.22 C441.43,421.16 442.02,420.11 442.60,419.06 C443.19,418.00 443.79,416.95 444.39,415.90 C444.99,414.84 445.60,413.79 446.21,412.74 C446.82,411.69 447.44,410.63 448.07,409.58 C448.69,408.53 449.33,407.47 449.97,406.42 C450.61,405.37 451.26,404.31 451.91,403.26 C452.57,402.21 453.23,401.16 453.91,400.10 C454.58,399.05 455.26,398.00 455.95,396.94 C456.64,395.89 457.34,394.84 458.05,393.78 C458.76,392.73 459.48,391.68 460.21,390.63 C460.94,389.57 461.68,388.52 462.43,387.47 C463.18,386.41 463.94,385.36 464.71,384.31 C465.49,383.25 466.27,382.20 467.06,381.15 C467.86,380.10 468.67,379.04 469.49,377.99 C470.31,376.94 471.14,375.88 471.98,374.83 C472.83,373.78 473.69,372.72 474.56,371.67 C475.43,370.62 476.31,369.57 477.21,368.51 C478.11,367.46 479.02,366.41 479.95,365.35 C480.88,364.30 481.82,363.25 482.77,362.19 C483.73,361.14 484.70,360.09 485.69,359.04 C486.68,357.98 487.68,356.93 488.70,355.88 C489.72,354.82 490.75,353.77 491.80,352.72 C492.85,351.66 493.92,350.61 495.01,349.56 C496.09,348.51 497.77,346.93 498.32,346.40 L498.80,346.40 L498.80,478.90" fill="none" stroke="#b679e6" stroke-width="1.7" stroke-linejoin="round"/>
<line x1="545.90" y1="304.80" x2="568.60" y2="304.80" stroke="#111111" stroke-width="1.6" />
<text x="573.90" y="305.80" font-size="9.3" fill="#000" text-anchor="start" font-weight="bold" dominant-baseline="central" >untreated</text>
<line x1="545.90" y1="341.90" x2="568.60" y2="341.90" stroke="#ea4a4a" stroke-width="1.6" />
<text x="573.90" y="343.60" font-size="9.9" fill="#000" font-weight="bold" dominant-baseline="central">23</text>
<circle cx="586.81" cy="340.53" r="0.75" fill="none" stroke="#000" stroke-width="0.6" opacity="0.8"/>
<text x="587.71" y="343.60" font-size="10.59" fill="#000" font-weight="normal" dominant-baseline="central" opacity="0.8">C</text>
<line x1="545.90" y1="380.00" x2="568.60" y2="380.00" stroke="#2a6fd6" stroke-width="1.6" />
<text x="573.90" y="381.70" font-size="9.9" fill="#000" font-weight="bold" dominant-baseline="central">40</text>
<circle cx="586.81" cy="378.63" r="0.75" fill="none" stroke="#000" stroke-width="0.6" opacity="0.8"/>
<text x="587.71" y="381.70" font-size="10.59" fill="#000" font-weight="normal" dominant-baseline="central" opacity="0.8">C</text>
<line x1="545.90" y1="416.90" x2="568.60" y2="416.90" stroke="#3aa56a" stroke-width="1.6" />
<text x="573.90" y="418.60" font-size="9.9" fill="#000" font-weight="bold" dominant-baseline="central">60</text>
<circle cx="586.81" cy="415.53" r="0.75" fill="none" stroke="#000" stroke-width="0.6" opacity="0.8"/>
<text x="587.71" y="418.60" font-size="10.59" fill="#000" font-weight="normal" dominant-baseline="central" opacity="0.8">C</text>
<line x1="545.90" y1="454.10" x2="568.60" y2="454.10" stroke="#b679e6" stroke-width="1.6" />
<text x="573.90" y="455.80" font-size="9.9" fill="#000" font-weight="bold" dominant-baseline="central">80</text>
<circle cx="586.81" cy="452.73" r="0.75" fill="none" stroke="#000" stroke-width="0.6" opacity="0.8"/>
<text x="587.71" y="455.80" font-size="10.59" fill="#000" font-weight="normal" dominant-baseline="central" opacity="0.8">C</text>
<text x="358.50" y="265.40" font-size="18.6" fill="#000" text-anchor="start" font-weight="bold" dominant-baseline="central" >(d)</text>
<text x="373.60" y="368.40" font-size="14" fill="#000" text-anchor="middle" font-weight="bold" dominant-baseline="central" transform="rotate(-90 373.60 368.40)" >Force (N)</text>
<text x="547.30" y="511.20" font-size="14.0" fill="#000" text-anchor="middle" font-weight="bold" dominant-baseline="central" >Displacement (mm)</text>
</svg></body></html>
